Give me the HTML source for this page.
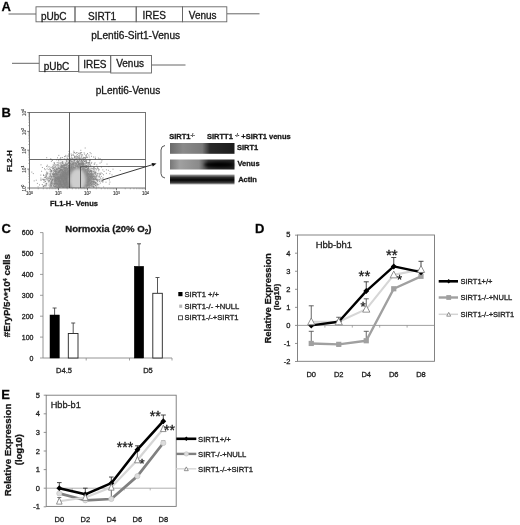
<!DOCTYPE html>
<html><head><meta charset="utf-8"><title>Figure</title>
<style>html,body{margin:0;padding:0;background:#fff;}svg{display:block;font-family:"Liberation Sans",sans-serif;filter:blur(0.4px);}text{stroke:#222;stroke-width:0.3px;}text.tk{stroke-width:0.12px;}</style>
</head><body>
<svg width="520" height="525" viewBox="0 0 520 525" font-family="Liberation Sans, sans-serif">
<rect x="0" y="0" width="520" height="525" fill="#fff"/>
<defs><filter id="bl2" x="-50%" y="-50%" width="200%" height="200%"><feGaussianBlur stdDeviation="3.5"/></filter><filter id="bl3" x="-50%" y="-50%" width="200%" height="200%"><feGaussianBlur stdDeviation="1.8"/></filter></defs>
<text x="1.5" y="11.2" font-size="13" font-weight="bold" text-anchor="start" fill="#000" >A</text>
<line x1="8.5" y1="14" x2="36" y2="14" stroke="#666" stroke-width="1" />
<line x1="227" y1="13.8" x2="259.5" y2="13.8" stroke="#666" stroke-width="1" />
<rect x="36" y="6.8" width="39" height="15" fill="none" stroke="#666" stroke-width="0.9" />
<rect x="75" y="6.8" width="61.19999999999999" height="15" fill="none" stroke="#666" stroke-width="0.9" />
<rect x="136.2" y="6.8" width="46.30000000000001" height="15" fill="none" stroke="#666" stroke-width="0.9" />
<rect x="182.5" y="6.8" width="44.30000000000001" height="15" fill="none" stroke="#666" stroke-width="0.9" />
<text x="41" y="20" font-size="10"  text-anchor="start" fill="#111" >pUbC</text>
<text x="88" y="20" font-size="10"  text-anchor="start" fill="#111" >SIRT1</text>
<text x="142.5" y="19.3" font-size="10"  text-anchor="start" fill="#111" >IRES</text>
<text x="188.8" y="19" font-size="10"  text-anchor="start" fill="#111" >Venus</text>
<text x="91.2" y="39.3" font-size="10.15"  text-anchor="start" fill="#111" >pLenti6-Sirt1-Venus</text>
<line x1="12" y1="63.3" x2="39.2" y2="63.3" stroke="#666" stroke-width="1" />
<line x1="151.5" y1="65" x2="185.5" y2="65" stroke="#666" stroke-width="1" />
<rect x="39.2" y="55.5" width="39.5" height="16" fill="none" stroke="#666" stroke-width="0.9" />
<rect x="78.7" y="55.5" width="32" height="16.5" fill="none" stroke="#666" stroke-width="0.9" />
<rect x="110.7" y="55.5" width="40.8" height="17.5" fill="none" stroke="#666" stroke-width="0.9" />
<text x="43.7" y="69.5" font-size="10"  text-anchor="start" fill="#111" >pUbC</text>
<text x="83.2" y="68.3" font-size="10"  text-anchor="start" fill="#111" >IRES</text>
<text x="116.2" y="67" font-size="10"  text-anchor="start" fill="#111" >Venus</text>
<text x="95.7" y="94.3" font-size="10.1"  text-anchor="start" fill="#111" >pLenti6-Venus</text>
<text x="1.5" y="117" font-size="13" font-weight="bold" text-anchor="start" fill="#000" >B</text>
<clipPath id="cp"><rect x="29.8" y="112.5" width="115.5" height="75.2"/></clipPath>
<g clip-path="url(#cp)">
<ellipse cx="73" cy="180" rx="22" ry="16" fill="#8c8c8c" opacity="0.85" filter="url(#bl2)"/>
<path d="M69.9 183.1h1M70.3 176.5h1M61.8 177.3h1M86.3 182.4h1M85.4 181.0h1M77.7 180.5h1M53.0 185.8h1M79.1 183.0h1M52.7 165.0h1M62.3 175.3h1M76.7 178.6h1M79.3 173.9h1M76.7 182.2h1M65.6 173.1h1M68.9 178.1h1M80.6 181.0h1M67.6 171.3h1M63.3 181.0h1M78.1 167.1h1M48.8 176.4h1M71.7 172.5h1M79.0 178.5h1M55.4 185.6h1M81.0 186.6h1M90.3 181.9h1M74.4 168.6h1M80.4 174.1h1M67.6 168.9h1M61.4 174.8h1M88.5 162.7h1M55.5 180.9h1M90.3 183.6h1M50.2 158.9h1M77.3 173.1h1M59.6 186.8h1M86.2 180.3h1M75.9 182.5h1M92.1 184.0h1M79.2 183.4h1M84.5 183.2h1M49.3 173.9h1M83.1 164.5h1M70.8 187.2h1M79.6 177.8h1M76.9 184.2h1M65.1 175.7h1M85.5 179.2h1M62.4 186.6h1M90.6 175.4h1M56.4 177.9h1M71.2 176.6h1M89.9 170.8h1M88.1 168.9h1M63.6 184.1h1M86.5 185.9h1M77.1 180.1h1M74.8 183.6h1M70.9 181.2h1M79.9 179.0h1M82.2 183.5h1M97.1 181.6h1M67.9 176.0h1M72.8 186.4h1M69.0 182.1h1M95.0 158.5h1M59.5 181.0h1M77.8 180.9h1M67.8 184.2h1M76.4 174.8h1M102.2 181.8h1M66.3 178.2h1M70.3 178.5h1M40.3 175.1h1M85.1 169.7h1M72.2 186.6h1M52.6 176.2h1M68.9 184.0h1M86.1 157.5h1M86.1 167.4h1M81.2 167.1h1M71.2 180.5h1M82.6 180.1h1M85.6 176.6h1M105.9 169.8h1M84.0 176.9h1M74.6 184.6h1M75.7 184.1h1M54.7 166.9h1M80.4 171.3h1M60.7 167.2h1M88.2 185.0h1M90.7 171.5h1M73.0 169.9h1M84.9 177.6h1M71.8 174.2h1M77.8 182.3h1M91.0 170.8h1M90.4 177.6h1M64.1 187.1h1M74.4 180.0h1M90.1 176.9h1M45.4 175.9h1M50.8 185.6h1M76.8 174.1h1M72.9 185.7h1M72.3 187.3h1M64.9 186.0h1M50.5 170.3h1M58.2 178.9h1M70.7 178.8h1M65.9 180.9h1M94.5 179.4h1M79.4 187.0h1M70.6 168.9h1M53.2 174.2h1M85.1 185.3h1M73.1 185.4h1M75.0 169.6h1M54.2 173.9h1M84.1 174.5h1M62.2 172.8h1M54.6 178.1h1M58.8 181.9h1M44.7 181.6h1M65.3 163.5h1M81.7 176.8h1M46.2 172.0h1M76.5 175.3h1M82.4 185.0h1M81.0 181.6h1M89.0 184.3h1M78.4 162.3h1M69.4 175.2h1M96.3 164.9h1M61.9 184.5h1M95.6 178.0h1M79.7 186.2h1M62.1 178.3h1M76.5 185.6h1M72.6 177.4h1M60.8 176.1h1M83.7 179.8h1M62.8 172.3h1M80.6 158.3h1M80.5 182.8h1M93.2 182.4h1M72.2 183.2h1M49.7 187.3h1M76.9 173.4h1M56.2 173.7h1M76.5 180.5h1M68.2 171.2h1M98.4 187.3h1M58.7 168.2h1M93.4 186.9h1M94.9 185.5h1M62.5 181.1h1M47.1 173.0h1M72.3 183.2h1M64.3 178.0h1M78.5 182.0h1M80.7 180.7h1M69.1 185.3h1M73.6 172.4h1M65.5 179.0h1M71.7 180.3h1M73.0 180.4h1M71.4 168.9h1M78.1 187.4h1M78.2 177.5h1M78.4 171.3h1M50.2 179.5h1M61.8 184.9h1M60.0 158.0h1M68.4 168.0h1M63.8 183.2h1M79.0 180.4h1M90.8 184.7h1M72.7 183.8h1M92.9 186.8h1M85.3 170.3h1M71.2 184.8h1M80.2 186.3h1M87.9 177.3h1M68.9 186.0h1M84.8 179.1h1M59.0 180.5h1M82.4 179.2h1M83.2 183.3h1M75.5 179.4h1M70.1 184.5h1M60.3 174.0h1M73.1 167.3h1M67.8 162.9h1M64.8 183.5h1M79.8 178.6h1M70.2 167.7h1M94.9 183.1h1M86.1 171.9h1M70.8 164.4h1M82.4 186.5h1M50.2 178.6h1M80.6 164.9h1M51.1 170.5h1M65.4 167.8h1M73.4 181.0h1M80.6 184.6h1M57.3 175.0h1M60.3 170.4h1M72.0 179.0h1M78.9 166.3h1M58.1 178.8h1M70.6 176.5h1M72.2 172.9h1M81.4 181.8h1M71.9 173.6h1M70.9 157.2h1M61.2 179.3h1M55.0 180.6h1M74.8 168.0h1M70.0 176.5h1M78.5 183.9h1M72.6 172.2h1M71.3 178.5h1M81.8 181.4h1M64.3 168.2h1M68.5 173.1h1M59.7 178.1h1M67.1 179.8h1M79.3 175.7h1M100.9 176.4h1M86.2 180.0h1M86.4 160.0h1M64.0 181.0h1M82.2 186.6h1M79.1 177.8h1M79.1 170.4h1M87.2 170.9h1M70.3 179.2h1M87.0 179.2h1M63.3 181.1h1M80.0 184.7h1M93.0 179.1h1M76.2 175.6h1M90.0 173.4h1M81.1 175.2h1M64.7 184.7h1M89.0 178.9h1M64.9 185.5h1M72.4 181.5h1M73.0 185.3h1M65.2 178.6h1M89.4 169.3h1M54.9 166.0h1M87.1 175.3h1M72.3 176.5h1M71.5 170.3h1M73.3 167.5h1M72.1 181.5h1M78.6 177.1h1M62.2 180.3h1M82.2 178.1h1M67.3 173.4h1M61.8 176.2h1M76.5 183.1h1M64.5 179.1h1M106.5 164.1h1M66.7 180.4h1M74.9 182.3h1M70.1 181.9h1M73.6 185.2h1M50.3 171.9h1M73.0 170.7h1M60.5 184.0h1M65.2 184.1h1M81.9 181.5h1M79.1 178.2h1M56.1 178.8h1M78.5 174.8h1M71.8 185.0h1M62.5 184.1h1M95.4 174.6h1M74.8 177.8h1M91.5 181.5h1M83.8 173.5h1M72.8 178.9h1M83.8 165.0h1M81.9 178.0h1M78.4 181.9h1M55.0 177.3h1M90.9 174.4h1M60.7 168.1h1M58.3 181.7h1M93.3 182.4h1M66.8 173.6h1M79.3 183.4h1M60.8 169.6h1M76.5 181.0h1M57.3 177.4h1M66.5 182.7h1M71.6 178.3h1M68.8 187.4h1M89.7 176.1h1M83.2 172.9h1M73.9 185.0h1M91.2 175.9h1M72.1 180.6h1M55.0 179.1h1M64.9 182.0h1M59.4 163.2h1M73.5 181.1h1M66.4 186.1h1M69.7 174.2h1M78.7 166.5h1M64.9 178.8h1M83.2 177.7h1M76.7 173.8h1M65.3 179.1h1M75.1 187.2h1M58.2 162.2h1M80.3 185.4h1M75.5 181.0h1M84.2 182.0h1M93.0 169.1h1M68.5 151.4h1M82.7 176.0h1M72.9 177.0h1M67.0 172.3h1M65.4 184.1h1M73.4 179.5h1M70.9 186.3h1M78.9 177.9h1M81.0 177.8h1M78.6 171.3h1M85.9 181.8h1M77.0 186.1h1M75.4 177.8h1M54.4 186.8h1M73.4 176.7h1M77.2 179.6h1M81.1 176.0h1M72.6 161.9h1M67.9 184.4h1M89.0 176.1h1M69.1 184.9h1M93.1 179.3h1M87.7 173.3h1M75.5 178.4h1M101.7 173.7h1M66.1 183.0h1M60.3 183.0h1M79.9 176.8h1M79.4 166.6h1M82.1 166.6h1M64.6 174.6h1M68.2 185.9h1M74.0 175.8h1M73.1 181.9h1M87.9 181.1h1M99.5 163.1h1M72.5 182.3h1M84.6 184.4h1M69.7 170.6h1M74.2 187.3h1M59.9 170.8h1M72.7 163.5h1M69.9 175.5h1M78.4 173.4h1M62.4 175.8h1M72.4 173.7h1M73.1 185.0h1M63.6 175.6h1M64.3 178.7h1M79.3 168.1h1M78.6 178.8h1M51.1 181.3h1M87.3 164.1h1M82.7 180.7h1M78.7 182.5h1M88.6 177.2h1M83.5 175.7h1M81.7 172.5h1M78.3 177.7h1M59.3 172.7h1M75.3 186.5h1M78.1 183.2h1M68.3 174.6h1M83.7 179.5h1M69.7 174.4h1M69.9 184.0h1M77.2 169.3h1M78.1 180.4h1M61.0 185.2h1M69.6 176.3h1M64.7 182.5h1M65.2 185.5h1M99.6 158.7h1M67.8 183.0h1M71.9 173.7h1M98.8 179.6h1M53.3 185.8h1M66.1 180.2h1M88.1 179.9h1M56.3 165.4h1M87.2 184.9h1M63.2 185.9h1M79.0 184.2h1M45.9 176.6h1M83.8 184.9h1M83.6 159.3h1M75.0 182.9h1M103.6 171.4h1M69.0 179.3h1M83.6 175.5h1M86.8 172.7h1M76.2 174.8h1M74.9 173.5h1M76.6 174.5h1M75.4 186.9h1M61.3 178.1h1M79.5 183.2h1M69.0 162.1h1M87.9 181.6h1M73.2 176.8h1M76.2 175.6h1M60.7 173.1h1M65.8 174.1h1M59.1 184.1h1M57.3 184.3h1M60.8 181.8h1M89.5 180.6h1M64.2 179.4h1M74.8 165.1h1M65.7 180.3h1M67.4 179.6h1M81.8 185.1h1M83.9 183.7h1M69.5 178.9h1M69.7 176.5h1M70.8 165.2h1M69.0 178.8h1M61.3 178.8h1M79.2 177.7h1M97.9 158.1h1M70.5 164.4h1M43.0 180.0h1M79.2 176.6h1M79.6 161.1h1M83.2 182.0h1M73.3 174.3h1M80.7 175.1h1M75.7 174.9h1M46.0 178.7h1M75.4 185.0h1M62.5 178.7h1M80.4 180.2h1M62.1 163.6h1M84.1 185.5h1M65.6 173.3h1M83.7 171.7h1M51.2 171.0h1M64.8 173.2h1M75.8 173.0h1M88.7 178.4h1M66.0 180.8h1M72.8 176.5h1M76.9 173.5h1M50.9 161.3h1M57.8 172.9h1M72.7 179.4h1M79.7 180.0h1M63.5 173.3h1M47.6 177.6h1M78.8 183.2h1M71.5 177.6h1M84.2 179.1h1M81.9 183.7h1M66.1 176.1h1M63.3 172.6h1M73.3 183.5h1M87.1 185.5h1M87.5 168.9h1M65.3 182.6h1M90.2 179.8h1M62.7 176.2h1M65.1 172.1h1M91.0 174.0h1M87.2 181.7h1M65.7 182.3h1M92.5 184.0h1M88.1 179.8h1M79.2 177.4h1M55.8 178.5h1M75.9 174.4h1M69.3 185.3h1M97.0 184.0h1M76.9 166.6h1M96.1 179.6h1M72.6 170.1h1M72.3 170.2h1M73.9 182.7h1M73.4 181.2h1M65.2 164.5h1M70.7 172.9h1M60.9 176.2h1M76.5 169.5h1M81.2 177.8h1M74.5 178.0h1M72.4 184.9h1M71.9 159.8h1M72.7 171.9h1M80.8 174.1h1M60.4 170.0h1M56.1 159.8h1M50.5 181.9h1M65.3 164.1h1M55.2 183.9h1M63.7 176.1h1M96.3 187.3h1M74.7 180.5h1M69.3 182.7h1M76.4 179.4h1M67.0 168.4h1M66.6 166.6h1M87.7 183.3h1M83.7 163.7h1M95.1 185.5h1M97.8 169.2h1M79.4 182.4h1M75.4 180.4h1M85.6 167.0h1M58.1 167.8h1M66.3 174.2h1M77.4 181.1h1M73.4 173.6h1M67.7 186.6h1M82.2 179.8h1M65.9 184.2h1M86.8 176.9h1M82.9 170.1h1M85.2 180.6h1M54.0 184.4h1M64.9 177.7h1M76.4 176.3h1M76.1 174.6h1M81.1 179.0h1M75.5 157.0h1M86.9 179.3h1M51.6 179.8h1M71.2 184.4h1M68.6 170.1h1M86.2 186.3h1M91.5 185.9h1M66.1 165.7h1M65.2 173.6h1M63.2 183.7h1M76.9 176.8h1M75.1 177.8h1M75.6 185.0h1M84.5 173.5h1M53.3 176.4h1M73.3 167.5h1M66.8 184.8h1M62.6 167.8h1M79.2 186.5h1M75.3 168.6h1M82.4 185.3h1M79.6 175.1h1M76.6 185.3h1M66.3 164.3h1M76.9 182.8h1M73.2 186.1h1M66.0 178.3h1M69.3 183.6h1M92.1 177.0h1M82.5 183.7h1M94.2 177.6h1M71.7 170.5h1M79.4 182.4h1M70.6 180.4h1M55.9 187.4h1M68.1 170.2h1M64.0 172.4h1M83.3 187.5h1M56.7 186.4h1M83.7 174.4h1M55.2 173.0h1M65.4 181.7h1M68.7 162.8h1M75.8 166.7h1M83.9 169.3h1M64.7 172.2h1M83.2 183.8h1M76.8 166.6h1M66.8 174.6h1M61.3 183.1h1M64.1 173.3h1M60.5 162.5h1M75.1 171.2h1M40.5 180.4h1M87.6 181.4h1M86.5 175.5h1M85.6 185.2h1M54.6 175.8h1M55.9 178.1h1M79.9 170.5h1M57.1 187.5h1M70.5 181.2h1M71.2 187.0h1M85.5 179.7h1M56.7 184.9h1M67.4 184.0h1M86.7 175.4h1M66.6 182.5h1M79.2 168.4h1M57.9 181.0h1M82.2 165.6h1M63.2 180.3h1M67.1 177.8h1M78.6 172.5h1M78.6 173.9h1M66.5 183.3h1M66.1 181.3h1M92.2 179.2h1M71.2 184.9h1M57.6 183.9h1M66.9 172.6h1M94.2 172.2h1M94.1 184.3h1M90.4 171.2h1M71.6 178.0h1M102.5 180.4h1M67.9 174.0h1M78.4 181.6h1M69.1 182.8h1M90.5 171.0h1M56.7 170.2h1M60.5 164.2h1M78.4 164.2h1M53.6 176.5h1M50.0 185.2h1M64.2 176.9h1M73.7 183.4h1M68.8 179.1h1M66.4 179.9h1M58.9 179.5h1M49.8 175.1h1M96.0 179.6h1M57.9 181.1h1M61.3 165.8h1M64.2 184.9h1M77.6 178.2h1M61.9 170.4h1M89.2 181.0h1M61.6 162.1h1M59.2 178.4h1M75.5 177.7h1M69.7 168.0h1M63.9 185.8h1M52.7 176.8h1M76.1 187.3h1M59.5 183.8h1M77.6 173.1h1M78.7 171.8h1M63.4 178.8h1M40.4 178.1h1M61.0 167.3h1M67.9 185.1h1M59.1 168.5h1M91.6 182.2h1M84.3 172.4h1M82.7 181.1h1M80.8 179.2h1M87.5 173.8h1M61.4 167.2h1M86.9 173.1h1M60.5 171.5h1M67.7 168.8h1M69.5 174.0h1M66.4 171.3h1M73.4 175.3h1M74.4 181.0h1M77.1 161.5h1M66.6 172.6h1M82.3 166.4h1M64.4 176.6h1M69.0 186.9h1M67.7 186.7h1M55.4 164.5h1M87.6 182.5h1M78.9 180.0h1M78.8 169.3h1M84.4 174.7h1M84.8 179.7h1M49.3 168.7h1M86.5 177.9h1M68.3 180.9h1M67.9 174.6h1M74.2 180.2h1M91.2 179.4h1M93.6 187.5h1M74.6 180.1h1M71.3 173.2h1M72.2 173.9h1M92.7 183.3h1M67.6 163.7h1M72.4 175.7h1M60.0 169.9h1M46.0 183.6h1M72.6 177.8h1M90.3 180.1h1M75.0 176.0h1M68.8 179.2h1M62.4 186.7h1M56.3 183.5h1M64.4 172.9h1M92.8 174.2h1M63.9 176.3h1M103.1 187.0h1M66.5 164.6h1M95.4 176.9h1M64.7 174.9h1M50.4 186.3h1M52.5 168.8h1M76.5 172.9h1M82.4 179.1h1M58.9 184.0h1M83.1 163.7h1M94.9 183.0h1M82.1 164.1h1M64.4 176.2h1M85.9 167.3h1M62.4 162.8h1M70.1 181.8h1M52.8 174.3h1M81.0 176.6h1M58.9 171.5h1M65.0 180.2h1M76.4 170.4h1M91.5 186.6h1M74.2 173.2h1M50.6 170.8h1M83.9 172.6h1M57.2 180.6h1M75.9 183.9h1M62.9 186.8h1M61.2 184.6h1M75.1 180.9h1M84.6 178.9h1M86.3 186.0h1M74.6 174.5h1M64.0 174.8h1M70.6 178.8h1M108.8 184.1h1M82.2 172.1h1M64.5 176.4h1M75.3 170.7h1M92.3 174.5h1M85.9 160.3h1M72.9 181.2h1M75.3 183.8h1M76.4 180.3h1M50.3 173.3h1M44.9 184.0h1M76.7 177.4h1M63.1 174.3h1M53.9 163.5h1M67.2 172.0h1M66.3 180.5h1M109.3 173.7h1M73.6 181.2h1M72.6 186.4h1M94.3 169.1h1M74.9 176.9h1M77.3 166.7h1M51.9 160.5h1M79.3 180.5h1M73.9 160.1h1M68.5 173.0h1M56.0 171.7h1M81.4 183.4h1M72.7 183.1h1M65.8 179.6h1M73.5 183.4h1M72.2 177.9h1M71.4 173.8h1M99.8 183.1h1M89.8 166.5h1M81.3 185.7h1M82.2 169.6h1M62.6 181.2h1M79.1 170.8h1M68.4 175.8h1M73.7 181.7h1M69.6 169.1h1M71.7 187.2h1M78.3 184.3h1M78.8 172.9h1M79.9 187.1h1M96.9 184.9h1M68.9 174.2h1M63.2 179.9h1M72.6 184.4h1M100.3 178.8h1M81.1 182.8h1M76.3 177.3h1M71.5 172.4h1M75.1 178.8h1M76.8 172.2h1M73.5 179.4h1M80.3 170.5h1M78.0 186.9h1M80.2 176.1h1M67.1 177.1h1M71.1 173.9h1M77.5 180.6h1M62.1 173.1h1M71.8 184.4h1M58.7 170.9h1M79.0 169.2h1M74.3 181.8h1M71.7 170.9h1M72.3 176.3h1M77.0 172.3h1M86.1 165.6h1M70.9 179.1h1M84.5 174.1h1M79.6 174.5h1M68.2 182.5h1M61.9 186.8h1M87.5 179.3h1M59.4 182.2h1M82.8 164.4h1M95.6 185.1h1M86.4 176.3h1M58.3 178.2h1M70.6 178.6h1M81.4 177.8h1M75.3 182.4h1M78.3 179.7h1M70.5 174.0h1M89.1 180.2h1M60.1 174.5h1M71.4 175.4h1M86.0 169.7h1M78.9 180.1h1M58.9 179.4h1M71.9 183.0h1M67.6 181.4h1M53.0 170.3h1M82.4 187.3h1M72.8 174.2h1M86.0 162.3h1M63.4 184.4h1M80.8 170.7h1M74.8 171.8h1M73.7 186.2h1M81.9 162.4h1M82.3 164.8h1M86.7 182.2h1M100.0 174.1h1M73.1 187.4h1M65.3 173.4h1M68.5 178.4h1M60.0 182.9h1M79.5 179.6h1M93.4 176.4h1M88.7 174.6h1M82.1 163.5h1M75.4 177.6h1M67.1 174.1h1M68.8 173.2h1M46.7 174.2h1M66.4 174.8h1M60.3 177.9h1M82.4 177.0h1M84.7 186.4h1M86.9 176.4h1M66.4 178.0h1M77.5 182.0h1M69.7 186.9h1M70.9 184.8h1M85.8 184.3h1M81.8 169.7h1M57.3 174.1h1M58.3 181.5h1M62.8 173.1h1M69.7 184.5h1M61.2 186.1h1M84.2 179.6h1M78.7 174.5h1M59.9 175.8h1M75.4 181.5h1M81.9 172.8h1M84.0 182.0h1M54.8 183.8h1M79.6 182.6h1M92.0 175.7h1M79.1 185.0h1M55.6 168.6h1M79.3 170.3h1M71.6 165.8h1M73.8 169.9h1M77.1 166.7h1M78.4 176.9h1M73.8 178.5h1M74.6 168.4h1M42.2 179.3h1M61.8 175.4h1M78.1 163.1h1M63.8 174.1h1M60.3 181.6h1M71.3 172.4h1M61.2 185.5h1M65.1 183.7h1M78.4 163.8h1M60.0 179.0h1M77.1 185.2h1M82.6 187.3h1M68.5 177.3h1M82.3 175.6h1M85.7 166.3h1M80.8 177.6h1M49.4 186.8h1M76.7 179.2h1M60.1 175.3h1M91.1 172.4h1M31.3 172.1h1M58.6 177.9h1M68.3 171.7h1M62.9 187.4h1M66.5 170.3h1M82.4 183.5h1M60.5 185.0h1M50.9 171.6h1M86.5 177.0h1M57.4 183.1h1M84.0 178.8h1M51.3 176.2h1M78.0 185.1h1M95.2 177.0h1M67.2 178.7h1M87.5 171.5h1M88.7 157.0h1M82.6 173.6h1M78.5 184.5h1M58.8 178.3h1M75.9 183.7h1M61.8 171.1h1M70.7 177.2h1M55.1 186.4h1M83.2 179.2h1M81.7 170.1h1M69.1 174.4h1M57.8 179.1h1M32.8 173.6h1M62.0 175.3h1M78.1 182.2h1M73.3 175.2h1M78.9 181.9h1M50.9 176.9h1M56.5 169.5h1M74.8 179.5h1M74.4 172.0h1M70.6 171.7h1M77.6 184.5h1M63.3 175.3h1M61.7 181.4h1M96.8 184.7h1M46.6 168.9h1M57.5 183.1h1M73.0 181.4h1M94.4 172.4h1M77.1 172.8h1M48.7 166.8h1M43.7 179.5h1M73.5 186.9h1M71.3 173.5h1M51.8 180.4h1M73.3 183.9h1M68.1 183.0h1M82.8 177.8h1M67.5 177.5h1M61.4 177.3h1M69.4 180.7h1M67.7 183.8h1M76.5 185.1h1M73.3 181.1h1M67.4 172.7h1M80.9 182.5h1M76.2 175.4h1M51.6 184.3h1M75.4 174.6h1M64.4 178.8h1M66.9 180.2h1M70.5 173.0h1M85.9 172.7h1M66.9 183.4h1M66.5 175.5h1M77.3 176.1h1M58.0 178.2h1M59.8 186.8h1M63.6 176.2h1M69.1 181.2h1M84.9 185.5h1M63.9 186.2h1M71.7 181.8h1M69.8 184.3h1M70.5 187.0h1M90.4 171.5h1M90.7 168.3h1M79.5 183.8h1M90.8 181.2h1M67.2 172.6h1M58.0 185.1h1M70.2 173.3h1M79.4 172.9h1M67.8 175.3h1M71.1 166.4h1M76.3 179.6h1M77.2 183.5h1M69.2 186.4h1M83.0 180.7h1M68.1 175.2h1M81.3 170.2h1M71.1 173.0h1M56.3 183.8h1M72.7 179.3h1M83.5 167.0h1M72.2 181.3h1M83.0 170.3h1M81.6 180.8h1M73.0 175.6h1M68.9 171.5h1M72.7 164.0h1M72.0 182.4h1M84.9 176.2h1M89.7 173.8h1M71.4 164.0h1M63.9 172.7h1M90.5 183.1h1M60.1 183.2h1M78.6 177.2h1M73.3 176.6h1M66.6 165.2h1M89.8 176.8h1M64.2 177.3h1M83.5 181.7h1M66.2 181.8h1M70.6 183.0h1M68.2 167.5h1M73.7 184.9h1M60.0 178.2h1M83.3 176.1h1M82.7 187.0h1M53.6 175.0h1M62.1 173.8h1M75.3 164.0h1M80.5 183.4h1M67.8 183.2h1M82.1 181.4h1M67.4 180.3h1M66.9 187.0h1M68.3 182.7h1M74.6 179.5h1M93.0 178.3h1M89.5 185.4h1M88.3 177.7h1M83.8 184.9h1M65.9 181.1h1M71.5 178.7h1M88.1 173.4h1M53.5 165.5h1M67.8 174.0h1M73.2 183.4h1M93.4 181.4h1M78.4 173.3h1M88.5 163.9h1M82.6 167.5h1M69.4 183.5h1M77.8 172.7h1M62.7 186.4h1M73.2 181.3h1M57.6 174.4h1M81.0 167.7h1M96.9 168.2h1M58.9 179.3h1M78.6 184.6h1M68.7 177.4h1M70.3 174.6h1M43.3 186.4h1M75.9 180.2h1M65.7 180.9h1M72.8 178.4h1M85.7 165.8h1M75.9 170.8h1M60.5 178.2h1M66.2 186.3h1M61.7 166.1h1M78.9 176.3h1M69.3 187.3h1M62.8 176.1h1M74.7 182.2h1M67.0 187.0h1M98.8 175.9h1M94.5 162.8h1M89.2 176.4h1M74.6 176.4h1M65.7 169.2h1M86.1 176.3h1M66.9 173.6h1M80.6 179.9h1M67.3 171.1h1M88.2 185.0h1M62.0 186.6h1M60.2 183.9h1M61.9 175.8h1M78.7 182.3h1M84.7 172.6h1M72.9 182.6h1M64.0 177.8h1M57.8 179.7h1M83.9 185.3h1M68.8 177.3h1M69.1 180.7h1M50.8 184.9h1M54.9 175.0h1M73.3 175.1h1M92.2 178.2h1M67.3 182.1h1M88.0 176.4h1M74.0 174.7h1M73.7 176.3h1M74.0 186.7h1M89.0 180.0h1M75.3 185.6h1M69.7 170.9h1M85.8 171.8h1M83.7 171.6h1M94.1 171.0h1M63.5 165.5h1M81.3 184.4h1M70.7 159.6h1M72.4 176.7h1M68.6 176.8h1M52.4 174.6h1M68.8 173.5h1M77.6 187.2h1M81.3 170.0h1M74.9 180.1h1M68.1 182.0h1M83.6 172.0h1M64.9 165.5h1M74.9 178.6h1M69.2 182.8h1M48.6 178.8h1M74.0 177.0h1M67.9 171.8h1M66.0 179.7h1M79.8 172.4h1M84.5 171.1h1M82.5 182.3h1M70.0 177.7h1M78.5 185.6h1M57.6 181.1h1M64.5 183.8h1M88.8 179.4h1M71.8 180.4h1M39.0 184.9h1M79.5 180.3h1M68.4 173.4h1M43.4 175.5h1M76.2 178.9h1M53.9 173.9h1M87.4 169.1h1M61.6 170.6h1M66.6 183.9h1M79.8 163.4h1M89.8 174.5h1M72.1 169.5h1M65.6 173.4h1M61.4 176.4h1M83.1 181.7h1M61.6 179.9h1M73.4 184.8h1M69.2 182.5h1M97.3 179.7h1M60.5 181.5h1M63.8 176.2h1M75.2 181.6h1M69.7 185.5h1M70.8 169.0h1M83.1 176.2h1M87.0 174.0h1M79.6 181.4h1M41.9 167.5h1M51.2 186.0h1M85.6 182.8h1M80.8 175.2h1M72.9 180.7h1M77.8 184.4h1M70.6 173.6h1M66.5 182.2h1M53.9 169.4h1M68.3 174.8h1M69.9 158.6h1M69.1 177.1h1M81.9 163.8h1M69.5 182.6h1M85.2 170.9h1M80.3 176.4h1M65.7 172.4h1M68.3 172.4h1M84.6 181.9h1M89.2 182.2h1M65.9 187.1h1M65.4 175.4h1M71.1 179.3h1M86.8 174.3h1M77.1 178.8h1M58.5 170.6h1M70.5 182.1h1M76.7 182.7h1M73.6 175.5h1M77.9 171.3h1M57.5 176.4h1M56.5 175.0h1M64.4 174.7h1M72.5 172.8h1M68.1 165.8h1M74.7 172.2h1M77.7 157.2h1M63.7 180.9h1M44.8 176.2h1M74.1 179.8h1M55.7 180.8h1M74.7 171.5h1M81.6 178.6h1M73.2 175.5h1M79.3 179.8h1M86.2 182.5h1M65.9 177.3h1M83.6 176.2h1M77.4 183.0h1M70.9 161.0h1M74.5 180.7h1M74.6 173.1h1M87.0 178.0h1M65.8 173.5h1M77.2 170.6h1M88.2 187.2h1M88.8 183.6h1M87.4 182.8h1M88.9 175.2h1M74.5 185.0h1M73.9 184.4h1M74.0 167.5h1M79.4 174.4h1M73.2 164.1h1M70.8 186.0h1M47.8 180.5h1M62.2 173.9h1M51.2 171.1h1M78.0 175.2h1M98.6 159.4h1M72.2 180.7h1M99.4 180.0h1M79.0 181.8h1M70.9 175.8h1M67.8 162.8h1M76.1 178.7h1M71.8 176.9h1M64.3 178.8h1M67.9 180.6h1M109.4 182.1h1M83.1 185.4h1M81.3 185.4h1M67.1 179.0h1M64.5 186.5h1M82.7 175.4h1M87.4 170.3h1M71.9 183.9h1M72.6 182.0h1M86.8 181.6h1M60.2 184.6h1M71.9 179.9h1M66.4 168.2h1M58.4 176.2h1M60.5 157.8h1M86.4 170.0h1M64.5 183.1h1M64.0 184.1h1M67.4 181.4h1M74.2 179.0h1M51.6 167.5h1M66.6 183.1h1M74.9 182.8h1M84.6 167.3h1M76.2 177.6h1M69.3 172.3h1M63.8 171.0h1M92.9 179.1h1M81.7 171.4h1M40.5 164.8h1M72.5 171.2h1M70.2 171.2h1M56.7 177.2h1M68.3 172.7h1M62.6 171.7h1M54.1 181.1h1M59.5 177.7h1M74.2 183.4h1M86.2 174.7h1M58.5 177.5h1M76.4 173.6h1M56.4 181.8h1M84.9 164.0h1M75.4 177.2h1M75.5 175.3h1M78.2 184.0h1M82.0 183.5h1M77.8 169.8h1M68.1 180.0h1M68.6 170.8h1M51.7 180.9h1M73.4 174.4h1M68.1 172.1h1M64.2 178.2h1M65.5 184.3h1M71.3 180.0h1M80.0 180.8h1M71.1 172.7h1M69.0 184.3h1M75.6 176.0h1M57.4 167.0h1M76.8 187.0h1M77.4 168.3h1M70.5 180.7h1M62.3 181.7h1M70.7 172.5h1M58.5 185.3h1M77.2 172.1h1M61.1 185.9h1M80.0 176.6h1M91.6 176.7h1M70.8 181.7h1M73.4 171.2h1M59.1 177.5h1M89.4 171.2h1M88.9 180.7h1M60.0 181.1h1M79.6 172.0h1M48.1 181.8h1M60.0 182.4h1M50.7 177.9h1M63.5 167.5h1M70.2 180.3h1M66.5 169.8h1M75.5 165.4h1M79.2 182.8h1M92.6 185.9h1M77.1 181.1h1M73.3 168.7h1M90.1 183.1h1M69.7 170.1h1M90.3 183.1h1M59.2 184.2h1M95.1 178.8h1M77.7 175.8h1M65.7 187.3h1M108.9 179.9h1M71.6 185.2h1M69.4 184.7h1M82.7 171.1h1M60.5 178.4h1M82.7 181.2h1M87.5 168.3h1M78.7 174.2h1M74.2 181.5h1M61.7 177.2h1M59.4 181.1h1M63.1 175.2h1M75.5 173.9h1M86.4 174.1h1M82.9 181.2h1M61.0 177.3h1M63.3 176.2h1M78.2 168.9h1M46.1 184.3h1M49.8 184.6h1M85.0 182.0h1M70.6 177.1h1M76.0 176.7h1M66.8 176.1h1M86.6 174.2h1M77.4 170.1h1M64.7 168.4h1M70.7 184.3h1M76.5 175.2h1M80.1 176.3h1M77.3 181.1h1M79.3 159.8h1M57.9 185.0h1M70.3 174.7h1M90.3 183.3h1M95.0 182.9h1M70.6 184.6h1M63.9 175.5h1M66.6 177.3h1M82.0 175.3h1M76.7 175.1h1M83.3 157.7h1M70.6 180.3h1M60.5 186.8h1M84.2 184.0h1M71.3 170.6h1M70.4 175.4h1M75.9 175.4h1M108.4 166.6h1M86.6 175.4h1M70.2 186.2h1M73.0 169.6h1M77.8 177.5h1M49.1 180.5h1M60.8 173.2h1M78.6 181.3h1M77.9 174.3h1M75.7 178.1h1M47.5 166.8h1M70.9 176.9h1M66.5 186.6h1M71.6 181.9h1M68.0 177.7h1M53.0 174.5h1M62.0 174.0h1M87.1 181.0h1M87.2 185.6h1M83.6 186.7h1M66.0 185.2h1M69.3 174.9h1M82.6 172.5h1M76.2 181.9h1M77.3 176.3h1M58.1 179.2h1M83.0 185.1h1M80.6 187.5h1M61.5 178.7h1M76.9 186.7h1M74.8 183.0h1M47.8 178.8h1M101.6 180.8h1M51.8 180.0h1M56.4 173.8h1M78.3 184.2h1M84.8 180.5h1M63.1 178.2h1M76.9 176.9h1M65.3 176.2h1M55.6 171.1h1M72.0 176.2h1M76.5 178.8h1M59.4 170.7h1M77.3 172.3h1M78.0 170.7h1M74.6 178.4h1M84.5 176.0h1M68.7 180.9h1M70.0 174.9h1M69.3 182.6h1M75.7 184.3h1M94.2 178.8h1M59.0 180.2h1M77.8 161.8h1M73.2 167.6h1M84.9 167.4h1M89.0 186.0h1M68.8 182.9h1M90.5 176.4h1M72.8 174.7h1M86.4 162.4h1M89.4 171.6h1M83.7 166.5h1M62.2 174.4h1M82.6 166.5h1M80.0 174.1h1M87.3 176.6h1M78.6 177.7h1M93.7 176.2h1M73.9 184.3h1M64.5 180.5h1M46.8 179.8h1M65.5 167.4h1M77.9 167.3h1M93.9 173.6h1M68.7 180.9h1M59.9 166.6h1M84.0 166.8h1M86.9 179.3h1M78.8 179.4h1M77.8 171.3h1M62.5 173.6h1M68.7 183.8h1M65.7 174.5h1M81.1 182.3h1M69.1 170.8h1M61.5 166.7h1M86.2 187.3h1M94.6 182.8h1M76.8 184.8h1M84.0 177.0h1M53.4 168.2h1M61.9 184.8h1M86.7 176.4h1M80.8 178.6h1M76.5 174.8h1M72.7 179.0h1M52.0 183.1h1M72.9 186.5h1M85.3 185.0h1M82.3 171.7h1M87.0 171.7h1M87.9 184.1h1M44.6 185.9h1M65.1 173.3h1M55.1 177.3h1M84.8 173.8h1M94.3 184.3h1M66.8 169.7h1M54.1 183.3h1M88.0 170.8h1M73.0 176.9h1M70.0 182.9h1M97.2 174.1h1M82.8 187.4h1M69.7 177.9h1M57.5 187.3h1M66.9 174.0h1M73.8 172.4h1M60.9 176.7h1M90.2 177.4h1M79.1 167.7h1M68.4 167.1h1M71.8 183.7h1M53.0 172.2h1M76.0 171.9h1M82.2 186.4h1M78.1 175.7h1M72.5 174.1h1M71.5 181.5h1M69.5 186.5h1M103.0 174.8h1M77.0 185.4h1M80.5 177.2h1M67.4 186.8h1M80.2 182.9h1M63.7 183.9h1M82.2 177.6h1M51.2 183.7h1M59.4 168.5h1M70.3 183.2h1M73.6 170.0h1M56.3 174.7h1M73.2 172.6h1M63.3 177.8h1M66.6 174.5h1M73.5 176.7h1M80.2 169.8h1M72.1 184.9h1M86.7 183.3h1M73.4 167.0h1M54.4 186.6h1M80.9 183.4h1M53.7 162.5h1M60.7 169.8h1M74.9 171.1h1M91.4 174.2h1M66.5 185.7h1M76.8 172.0h1M58.7 177.1h1M60.5 163.9h1M80.3 184.4h1M84.3 182.3h1M49.5 178.8h1M65.2 169.9h1M60.1 184.9h1M78.5 164.2h1M73.4 169.6h1M93.6 168.8h1M72.0 164.2h1M58.4 165.8h1M68.3 168.4h1M72.3 181.9h1M55.2 170.0h1M71.8 184.5h1M73.9 182.5h1M58.4 159.6h1M76.6 171.8h1M71.5 176.1h1M78.6 173.0h1M89.9 179.2h1M79.2 183.9h1M85.1 182.2h1M52.5 174.1h1M94.8 182.7h1M79.6 182.7h1M65.5 173.7h1M78.4 169.7h1M93.4 181.6h1M87.0 180.7h1M69.2 180.3h1M59.8 169.6h1M62.6 174.9h1M57.0 178.2h1M94.7 178.6h1M83.4 177.3h1M77.6 178.7h1M66.6 179.6h1M55.6 182.5h1M69.6 170.5h1M68.8 183.4h1M65.0 182.7h1M60.2 178.1h1M76.1 184.9h1M55.7 174.4h1M92.6 176.8h1M98.6 173.3h1M69.7 166.4h1M80.5 181.1h1M96.9 180.3h1M70.0 167.9h1M72.0 186.5h1M83.2 178.6h1M80.2 180.4h1M77.4 170.7h1M77.6 181.3h1M36.9 183.4h1M91.2 171.5h1M51.0 181.2h1M77.0 181.8h1M59.8 175.3h1M75.3 184.9h1M99.0 181.3h1M65.8 160.3h1M85.8 178.0h1M71.7 171.2h1M81.7 164.8h1M74.3 180.0h1M71.8 179.7h1M83.2 166.7h1M69.5 179.5h1M84.4 172.6h1M82.6 182.1h1M55.3 167.3h1M55.9 180.1h1M75.5 184.7h1M82.8 174.6h1M85.7 185.5h1M78.6 182.8h1M57.7 181.9h1M60.7 169.5h1M68.8 180.1h1M72.4 176.4h1M61.1 180.5h1M64.2 167.8h1M68.2 170.6h1M69.5 177.3h1M74.6 186.9h1M78.3 164.5h1M59.8 169.2h1M78.2 179.8h1M94.4 176.8h1M76.7 179.6h1M88.5 174.2h1M81.2 176.0h1M74.3 180.3h1M73.3 175.3h1M91.6 176.9h1M80.5 187.2h1M93.6 167.6h1M96.4 179.2h1M52.1 173.9h1M56.3 178.8h1M55.2 171.0h1M76.5 180.3h1M63.5 177.1h1M71.8 179.6h1M72.9 177.2h1M83.5 166.2h1M67.1 180.1h1M68.2 174.6h1M67.8 180.7h1M87.9 177.5h1M69.8 181.8h1M70.1 163.5h1M76.2 176.0h1M66.1 184.0h1M73.5 174.5h1M46.9 165.2h1M73.2 178.1h1M78.3 180.8h1M67.3 168.9h1M59.9 177.9h1M59.2 185.0h1M57.1 164.7h1M70.7 164.8h1M92.5 171.1h1M72.4 177.0h1M63.2 164.9h1M50.7 185.9h1M55.5 183.5h1M72.8 185.8h1M66.8 184.8h1M83.7 183.9h1M90.4 177.6h1M91.5 173.4h1M93.0 157.0h1M73.2 172.6h1M73.0 187.2h1M81.6 179.8h1M93.4 167.2h1M76.9 162.4h1M77.1 169.5h1M63.0 186.4h1M79.9 178.0h1M55.9 176.8h1M45.5 174.5h1M61.4 159.5h1M80.0 182.0h1M82.3 179.5h1M65.3 155.4h1M78.8 186.7h1M65.9 167.7h1M72.5 165.6h1M73.1 185.2h1M91.1 181.1h1M75.4 185.0h1M89.8 176.4h1M58.3 172.7h1M57.9 171.9h1M71.6 181.7h1M74.9 179.6h1M68.7 182.4h1M83.6 185.1h1M91.0 176.7h1M75.4 182.3h1M69.0 186.8h1M68.2 170.9h1M72.3 175.5h1M83.0 176.0h1M74.5 177.3h1M77.1 174.0h1M86.3 167.6h1M68.4 173.3h1M80.8 179.3h1M78.8 176.4h1M64.4 170.0h1M69.0 174.7h1M76.4 181.8h1M84.7 178.1h1M64.0 170.5h1M73.7 181.9h1M96.4 180.5h1M72.9 186.6h1M67.2 178.4h1M70.4 186.6h1M73.8 173.3h1M75.9 184.3h1M64.5 184.1h1M64.5 172.0h1M75.6 177.1h1M61.2 166.0h1M73.3 180.9h1M67.5 180.5h1M54.7 182.1h1M78.0 181.2h1M65.6 179.6h1M76.3 181.0h1M64.3 185.9h1M87.1 175.1h1M80.7 181.5h1M72.4 168.7h1M94.1 164.1h1M76.6 176.0h1M86.7 175.6h1M73.5 183.9h1M78.5 174.8h1M81.2 182.1h1M84.9 174.9h1M72.4 175.9h1M63.0 181.0h1M69.1 182.1h1M86.7 178.1h1M73.8 180.1h1M64.7 171.1h1M86.4 180.4h1M72.1 169.1h1M59.2 171.9h1M91.6 174.6h1M80.2 173.0h1M79.2 176.1h1M77.0 177.1h1M73.7 181.1h1M66.9 180.6h1M48.4 169.5h1M58.2 186.0h1M102.1 180.5h1M43.9 177.6h1M35.8 180.2h1M66.9 175.1h1M77.1 174.4h1M86.3 179.0h1M67.7 186.4h1M84.5 180.1h1M89.4 179.0h1M55.5 174.2h1M78.8 183.5h1M76.9 182.5h1M57.3 177.5h1M76.1 177.2h1M73.7 183.8h1M61.7 174.5h1M60.5 165.5h1M82.2 177.3h1M84.5 176.1h1M98.2 184.7h1M74.8 179.9h1M70.6 185.4h1M96.7 175.7h1M60.1 183.7h1M85.7 167.2h1M64.8 171.1h1M79.7 183.0h1M64.3 170.1h1M81.1 162.8h1M80.6 177.8h1M95.7 186.9h1M66.1 176.8h1M69.7 173.3h1M74.0 186.6h1M55.2 177.2h1M90.7 184.9h1M63.4 172.6h1M62.9 166.3h1M86.6 179.5h1M64.8 167.7h1M68.5 175.0h1M93.3 175.4h1M74.4 187.4h1M80.9 177.6h1M80.1 175.6h1M72.0 171.5h1M62.4 167.3h1M78.9 183.1h1M75.1 185.1h1M79.3 180.0h1M62.6 183.6h1M87.0 184.0h1M87.7 175.3h1M66.1 180.9h1M70.8 179.2h1M69.8 174.8h1M75.4 163.9h1M62.3 170.2h1M64.3 159.0h1M70.1 184.8h1M80.1 169.2h1M87.3 165.8h1M66.2 176.2h1M87.8 179.9h1M71.5 172.7h1M74.1 179.3h1M81.7 179.1h1M75.4 178.9h1M79.7 178.1h1M65.5 187.4h1M67.7 186.5h1M63.8 179.8h1M77.7 180.1h1M75.7 182.0h1M59.8 170.3h1M71.5 171.7h1M65.3 179.3h1M86.9 174.6h1M79.6 180.5h1M68.8 171.6h1M71.2 173.3h1M79.3 165.2h1M86.2 184.9h1M80.1 165.6h1M73.6 182.5h1M65.0 170.2h1M78.1 183.0h1M68.0 177.1h1M67.1 174.6h1M72.3 187.4h1M54.1 176.3h1M91.9 181.5h1M74.8 185.5h1M61.3 169.6h1M53.6 167.6h1M75.9 185.6h1M68.1 173.7h1M77.7 183.8h1M76.0 164.1h1M66.6 159.3h1M75.8 172.4h1M88.5 182.8h1M76.2 180.3h1M66.2 178.6h1M95.3 172.2h1M65.3 180.3h1M83.4 185.5h1M61.7 178.0h1M69.9 169.4h1M73.9 175.3h1M83.7 182.4h1M63.9 179.6h1M68.8 174.1h1M67.3 187.3h1M68.2 165.7h1M64.0 185.3h1M98.1 170.8h1M68.9 176.4h1M56.6 182.1h1M72.4 181.2h1M99.1 176.9h1M82.3 185.5h1M65.6 174.4h1M91.2 184.6h1M74.7 170.5h1M83.3 183.1h1M82.4 181.1h1M73.7 174.7h1M76.6 180.9h1M80.6 187.5h1M76.6 174.8h1M63.3 182.3h1M79.4 183.2h1M78.9 178.3h1M93.2 168.1h1M43.4 182.4h1M65.1 175.0h1M54.4 181.8h1M72.4 174.8h1M68.2 184.1h1M79.8 178.7h1M79.4 173.4h1M68.8 183.3h1M53.6 186.3h1M83.2 171.1h1M93.3 179.9h1M52.8 168.4h1M83.2 176.9h1M85.9 167.0h1M71.9 186.6h1M65.1 184.3h1M68.8 181.7h1M58.6 185.1h1M88.3 170.3h1M85.2 155.9h1M70.2 165.7h1M76.5 173.4h1M66.5 172.5h1M76.4 175.4h1M62.5 177.2h1M77.7 172.3h1M86.0 166.1h1M77.8 176.0h1M91.3 174.0h1M65.3 168.6h1M96.2 183.8h1M60.4 176.4h1M77.9 163.2h1M75.4 186.1h1M73.0 182.7h1M71.7 180.6h1M75.5 173.5h1M77.1 180.3h1M72.6 173.7h1M61.2 180.9h1M82.6 160.2h1M83.7 173.5h1M88.8 171.3h1M67.9 177.3h1M53.8 171.1h1M59.3 177.9h1M51.6 187.3h1M68.9 174.3h1M65.6 184.8h1M90.9 175.8h1M88.7 181.3h1M55.6 184.2h1M68.2 180.5h1M51.0 176.8h1M75.7 171.7h1M75.7 173.7h1M100.8 162.2h1M62.3 182.2h1M66.1 161.1h1M76.0 185.5h1M55.2 179.0h1M88.4 179.0h1M75.1 174.1h1M85.8 173.6h1M74.4 162.9h1M73.7 180.7h1M47.3 178.7h1M97.2 167.3h1M45.2 177.7h1M66.8 177.4h1M58.3 168.4h1M58.5 184.0h1M72.4 185.4h1M60.4 183.6h1M67.8 179.7h1M83.9 179.3h1M68.9 166.0h1M73.7 185.1h1M65.6 178.5h1M52.3 168.6h1M69.4 165.9h1M68.5 166.8h1M76.5 177.8h1M85.2 176.0h1M76.9 180.6h1M78.2 167.5h1M81.4 185.9h1M46.2 157.7h1M73.2 184.3h1M79.5 186.0h1M65.5 174.4h1M77.4 183.8h1M79.8 181.7h1M78.6 187.4h1M43.0 186.9h1M44.2 180.7h1M65.2 179.9h1M67.4 176.6h1M75.3 181.7h1M63.6 159.1h1M63.8 183.3h1M63.0 182.4h1M68.6 171.6h1M71.8 178.6h1M84.3 168.5h1M83.7 175.1h1M63.8 181.8h1M56.3 175.1h1M70.3 159.5h1M80.0 185.0h1M85.7 167.6h1M57.8 172.6h1M61.4 176.5h1M75.4 182.6h1M90.2 170.4h1M83.5 180.2h1M59.1 180.2h1M64.3 187.0h1M88.5 174.1h1M62.3 180.0h1M60.5 186.1h1M75.1 172.9h1M64.8 184.8h1M63.6 177.4h1M80.8 179.7h1M93.2 184.3h1M78.2 183.6h1M81.8 181.2h1M71.0 166.3h1M97.6 168.6h1M47.3 173.3h1M65.8 181.1h1M72.7 163.2h1M69.0 181.3h1M87.0 169.4h1M46.0 166.4h1M77.0 179.6h1M74.8 180.2h1M68.6 168.1h1M78.4 182.1h1M58.2 160.3h1M62.0 182.2h1M72.8 184.8h1M111.5 174.9h1M71.0 174.2h1M75.9 183.2h1M86.8 182.6h1M71.7 177.1h1M53.3 184.2h1M61.3 175.0h1M85.0 171.6h1M66.7 185.9h1M95.3 173.5h1M86.2 173.8h1M77.7 182.9h1M59.3 187.2h1M94.6 179.4h1M76.2 169.6h1M94.5 179.5h1M57.7 185.1h1M55.5 173.5h1M99.5 173.9h1M65.2 174.4h1M66.2 183.4h1M90.5 170.9h1M78.3 164.6h1M91.3 178.3h1M63.4 179.5h1M77.4 177.4h1M91.3 173.3h1M49.6 171.2h1M62.2 174.6h1M77.7 177.6h1M73.9 175.3h1M72.0 182.9h1M81.9 172.7h1M71.6 172.9h1M70.9 167.5h1M84.5 184.4h1M71.5 173.5h1M67.5 173.7h1M112.5 169.2h1M59.0 183.6h1M80.3 166.4h1M49.9 183.3h1M67.1 179.7h1M73.0 174.5h1M71.3 176.6h1M87.9 178.3h1M72.6 174.8h1M65.4 173.1h1M86.4 180.9h1M93.0 187.1h1M75.5 177.7h1M59.8 181.0h1M69.2 166.3h1M75.6 183.0h1M75.4 175.3h1M69.3 183.1h1M85.3 175.1h1M75.0 173.1h1M80.2 176.0h1M86.8 172.9h1M93.3 176.5h1M62.9 171.8h1M81.0 172.2h1M79.2 167.6h1M72.7 173.2h1M51.3 182.4h1M99.4 174.7h1M61.5 176.3h1M76.2 182.8h1M59.3 180.7h1M71.7 186.6h1M53.8 174.5h1M67.0 176.5h1M81.7 174.0h1M105.9 173.3h1M83.1 187.2h1M84.6 177.4h1M63.0 177.0h1M81.0 180.0h1M80.0 183.6h1M62.4 171.5h1M90.3 175.1h1M63.0 171.5h1M84.6 169.9h1M62.5 187.4h1M74.6 179.4h1M65.3 177.2h1M67.0 178.8h1M82.3 168.8h1M62.0 162.3h1M91.0 178.4h1M72.8 178.5h1M85.1 181.6h1M83.2 177.7h1M71.5 178.6h1M54.1 171.0h1M81.1 179.4h1M62.4 178.3h1M85.0 177.3h1M71.5 176.2h1M89.4 159.3h1M88.3 187.5h1M72.1 183.5h1M109.7 171.6h1M89.8 178.5h1M68.9 175.1h1M70.7 169.0h1M72.8 183.4h1M76.7 182.8h1M54.7 171.4h1M80.6 187.0h1M59.3 174.4h1M60.2 184.2h1M77.1 179.3h1M65.2 181.7h1M73.4 173.1h1M77.0 173.7h1M84.4 184.0h1M64.7 183.7h1M73.8 173.4h1M62.0 165.7h1M59.4 181.8h1M87.5 174.0h1M74.9 181.8h1M82.4 182.5h1M87.7 185.1h1M63.9 182.2h1M44.9 177.6h1M73.2 183.6h1M69.4 185.7h1M88.9 172.3h1M66.5 181.1h1M78.9 180.2h1M83.0 169.5h1M86.3 182.4h1M70.1 182.2h1M72.1 166.3h1M65.7 178.7h1M66.8 171.5h1M70.2 176.0h1M73.8 178.6h1M75.1 186.9h1M74.6 182.3h1M58.3 155.4h1M68.2 184.4h1M68.9 174.0h1M58.1 186.1h1M66.7 181.0h1M86.6 183.3h1M99.9 177.9h1M84.5 184.5h1M65.1 179.4h1M66.2 170.8h1M76.6 172.8h1M93.2 173.1h1M66.5 179.7h1M66.8 179.4h1M65.7 167.6h1M44.0 168.7h1M91.3 182.6h1M74.8 175.3h1M71.3 181.4h1M56.3 172.6h1M68.8 180.3h1M84.6 170.4h1M68.4 175.6h1M74.6 180.1h1M83.6 179.8h1M92.9 171.4h1M83.7 171.0h1M91.9 177.5h1M89.0 176.3h1M56.0 180.9h1M60.6 176.6h1M53.9 179.8h1M64.9 175.1h1M57.8 178.6h1M73.0 166.1h1M73.6 169.3h1M55.0 179.4h1M62.6 163.9h1M45.0 181.6h1M61.7 186.0h1M68.9 173.9h1M56.9 168.8h1M54.3 169.6h1M69.2 183.2h1M67.5 181.8h1M88.4 177.4h1M50.6 159.4h1M73.8 173.9h1M66.1 183.7h1M77.2 165.9h1M55.2 180.7h1M62.2 161.4h1M88.1 165.3h1M55.0 183.5h1M73.7 184.8h1M78.4 173.5h1M89.4 164.8h1M60.9 182.6h1M72.1 171.4h1M55.5 183.4h1M60.2 176.1h1M85.3 181.1h1M68.3 180.9h1M62.9 175.9h1M93.0 181.7h1M60.1 175.2h1M79.5 176.5h1M52.6 173.9h1M68.2 182.2h1M55.2 173.6h1M77.7 184.3h1M66.9 181.7h1M78.1 164.3h1M84.3 183.0h1M75.2 163.0h1M55.4 177.3h1M72.2 176.0h1M84.5 185.4h1M70.2 180.6h1M75.6 182.2h1M58.8 187.0h1M57.2 179.6h1M64.4 169.6h1M79.4 179.4h1M52.0 179.3h1M61.2 186.3h1M55.0 172.3h1M68.6 183.7h1M84.3 177.6h1M56.5 178.4h1M84.1 177.7h1M62.5 183.1h1M58.0 168.7h1M55.1 183.0h1M41.8 184.5h1M80.7 181.1h1M92.8 176.7h1M61.8 170.6h1M59.9 181.0h1M65.9 173.5h1M64.8 176.2h1M62.8 176.4h1M56.6 179.5h1M62.1 178.5h1M48.7 181.3h1M78.8 185.8h1M61.6 169.8h1M50.0 169.5h1M60.1 177.2h1M42.7 186.0h1M46.3 173.9h1M58.9 187.4h1M98.3 176.8h1M65.8 176.5h1M66.9 178.5h1M107.9 170.3h1M68.3 173.0h1M75.5 175.4h1M78.8 170.4h1M102.4 181.9h1M42.9 186.2h1M62.8 169.7h1M76.8 175.4h1M81.3 175.1h1M83.9 181.3h1M75.5 181.4h1M64.4 176.8h1M76.9 186.3h1M95.9 169.8h1M86.7 179.4h1M73.6 173.0h1M95.3 172.7h1M68.8 173.6h1M49.8 176.0h1M75.6 176.2h1M64.6 170.5h1M73.8 170.3h1M75.7 174.1h1M64.7 171.5h1M71.8 186.2h1M84.2 177.5h1M51.8 179.3h1M95.6 182.5h1M69.0 161.6h1M63.4 184.8h1M61.4 172.3h1M61.1 179.2h1M85.3 175.0h1M42.8 179.3h1M80.3 184.0h1M58.3 172.2h1M97.7 180.2h1M50.1 176.1h1M64.4 176.7h1M72.2 172.6h1M87.7 168.0h1M57.6 165.1h1M48.6 185.2h1M79.6 178.3h1M82.9 185.5h1M61.2 179.7h1M63.3 183.3h1M53.8 177.7h1M40.5 179.6h1M105.5 182.2h1M71.4 182.4h1M72.2 168.4h1M59.4 178.5h1M72.6 172.4h1M68.4 173.6h1M49.9 174.3h1M57.7 187.4h1M90.4 185.2h1M66.8 175.2h1M46.1 175.4h1M73.4 177.9h1M70.1 183.8h1M69.9 183.8h1M58.3 180.5h1M68.7 175.6h1M70.3 181.1h1M66.5 183.8h1M61.2 165.2h1M80.6 179.8h1M95.4 183.5h1M59.5 184.9h1M53.3 179.3h1M45.5 185.9h1M78.6 171.1h1M82.3 174.2h1M59.5 170.2h1M50.3 182.8h1M74.2 177.2h1M72.5 179.8h1M54.7 170.9h1M79.6 171.5h1M78.9 185.6h1M64.2 165.9h1M57.4 169.0h1M86.6 181.3h1M65.8 184.0h1M63.9 173.5h1M73.3 172.6h1M43.0 175.4h1M94.6 182.3h1M63.4 184.2h1M55.6 186.5h1M63.2 182.3h1M57.0 178.9h1M84.9 178.2h1M59.8 182.6h1M83.4 178.5h1M52.2 166.5h1M68.7 184.3h1M86.3 182.6h1M77.3 175.7h1M45.5 185.6h1M68.5 185.1h1M53.8 178.9h1M100.6 172.8h1M66.5 181.2h1M37.6 186.9h1M68.6 176.9h1M76.6 178.0h1M84.9 181.1h1M82.3 187.3h1M78.8 180.5h1M71.1 183.7h1M78.6 183.2h1M61.6 179.5h1M77.0 171.6h1M69.9 186.7h1M72.6 177.6h1M69.7 175.9h1M84.9 176.9h1M44.7 169.7h1M74.6 181.9h1M62.8 168.8h1M67.7 172.9h1M60.0 180.1h1M58.4 182.8h1M58.8 176.1h1M58.8 180.2h1M83.9 187.1h1M45.3 179.7h1M58.8 186.6h1M79.7 175.5h1M102.5 177.7h1M107.1 178.7h1M62.0 176.1h1M92.4 179.8h1M77.3 169.3h1M75.4 186.2h1M62.4 176.1h1M46.2 183.3h1M84.0 186.2h1M56.0 168.9h1M79.7 181.6h1M85.0 177.8h1M56.6 184.0h1M61.6 166.1h1M60.8 172.6h1M53.1 175.4h1M96.2 176.6h1M87.3 179.5h1M76.1 174.3h1M68.9 165.8h1M97.2 173.6h1M78.9 175.1h1M74.1 170.1h1M79.0 163.5h1M82.9 168.9h1M74.3 184.6h1M60.3 177.4h1M66.3 183.6h1M66.0 186.7h1M68.1 180.9h1M56.1 183.5h1M100.7 181.4h1M69.7 180.2h1M80.8 178.4h1M69.9 182.0h1M54.0 174.7h1M70.3 187.4h1M84.7 178.4h1M102.3 178.8h1M94.2 181.9h1M78.7 167.1h1M43.0 174.9h1M45.9 173.1h1M55.5 171.2h1M95.0 172.2h1M57.4 176.7h1M83.4 176.2h1M81.2 184.9h1M60.3 159.9h1M56.1 169.5h1M94.8 174.0h1M53.8 183.4h1M70.8 172.1h1M74.2 173.7h1M56.7 162.6h1M75.8 183.5h1M56.0 180.4h1M119.8 170.5h1M44.1 185.4h1M63.5 175.9h1M79.4 179.0h1M85.1 184.5h1M87.6 181.2h1M73.8 168.3h1M54.5 180.5h1M58.8 171.5h1M80.4 179.9h1M68.8 181.2h1M74.4 181.7h1M57.0 157.8h1M80.7 169.8h1M67.8 179.3h1M61.0 184.7h1M65.9 177.7h1M55.5 177.7h1M54.2 180.5h1M76.5 168.4h1M101.4 160.8h1M70.3 177.2h1M86.6 170.8h1M85.1 163.0h1M60.6 185.2h1M71.5 167.6h1M88.0 174.9h1M87.1 174.0h1M73.8 179.9h1M51.0 182.8h1M64.1 156.6h1M57.4 172.8h1M57.3 171.7h1M59.5 159.1h1M83.6 180.7h1M73.9 177.8h1M71.0 177.8h1M53.4 167.0h1M49.2 177.8h1M95.8 175.6h1M81.1 178.0h1M54.8 179.1h1M75.5 159.2h1M82.2 180.8h1M33.7 180.9h1M54.4 186.8h1M75.1 178.6h1M65.7 184.6h1M78.8 185.7h1M63.8 168.7h1M61.4 179.8h1M82.3 164.9h1M74.1 174.0h1M101.2 180.1h1M73.2 176.4h1M72.8 164.6h1M50.4 167.3h1M83.8 179.2h1M87.6 162.5h1M57.9 164.0h1M58.6 177.1h1M78.9 175.7h1M62.5 167.3h1M71.4 172.3h1M80.3 184.2h1M72.4 170.0h1M73.6 175.1h1M81.3 185.2h1M76.7 176.3h1M93.2 186.7h1M89.3 187.3h1M80.1 183.4h1M53.7 164.3h1M55.7 185.3h1M83.9 181.6h1M63.9 164.6h1M46.4 177.2h1M80.7 186.4h1M66.6 187.1h1M69.3 173.8h1M64.2 186.5h1M84.5 170.3h1M55.0 181.1h1M102.3 169.9h1M50.9 183.6h1M77.7 174.7h1M69.6 184.2h1M43.5 179.8h1M87.7 179.4h1M81.7 174.5h1M67.9 159.6h1M62.9 173.5h1M57.3 179.3h1M53.6 183.4h1M98.7 169.7h1M85.8 175.4h1M78.3 178.9h1M89.5 173.9h1M81.1 173.3h1M73.5 179.9h1M86.5 166.4h1M54.4 181.8h1M69.2 176.1h1M80.9 179.1h1M58.6 186.6h1M41.1 171.3h1M90.7 175.7h1M65.1 183.2h1M87.0 184.6h1M55.4 175.1h1M85.9 179.0h1M53.7 173.9h1M59.5 183.1h1M60.3 177.6h1M78.6 181.8h1M78.7 175.8h1M73.2 170.5h1M69.6 159.6h1M80.5 161.5h1M72.7 154.4h1M66.5 168.7h1M80.5 157.2h1M86.1 163.6h1M75.2 158.1h1M85.8 162.6h1M89.2 162.7h1M74.0 158.1h1M73.2 162.2h1M79.7 163.9h1M81.1 156.0h1M76.6 156.5h1M81.3 154.7h1M74.0 156.9h1M73.8 159.8h1M88.3 159.8h1M68.2 159.6h1M83.1 163.7h1M79.6 170.6h1M85.6 161.4h1M86.3 154.6h1M76.8 156.8h1M79.2 168.8h1M74.6 168.6h1M71.0 167.8h1M66.5 156.9h1M84.8 160.6h1M79.0 160.9h1M79.2 160.1h1M71.3 159.6h1M78.8 156.7h1M81.2 169.5h1M66.8 158.4h1M76.1 161.1h1M78.7 157.5h1M77.8 161.0h1M77.4 168.4h1M78.9 153.9h1M67.3 163.8h1M75.7 158.0h1M68.8 159.5h1M77.4 157.7h1M75.6 165.3h1M83.3 163.6h1M76.8 154.5h1M83.3 168.2h1M86.7 166.6h1M79.9 162.8h1M77.9 167.0h1M76.2 171.3h1M83.3 159.5h1M78.0 153.3h1M73.0 159.6h1M94.7 157.1h1M84.2 161.4h1M76.0 164.0h1M64.5 165.5h1M91.2 162.4h1M77.6 161.8h1M82.5 158.7h1M78.8 163.4h1M75.6 162.9h1M80.3 164.4h1M71.3 158.4h1M75.1 166.7h1M79.7 153.1h1M69.3 170.3h1M80.3 154.8h1M71.8 161.7h1M87.7 168.8h1M75.5 159.6h1M91.0 156.3h1M88.6 162.6h1M78.6 167.2h1M81.3 157.0h1M67.6 161.1h1M81.5 167.6h1M60.2 167.4h1M82.2 168.3h1M83.4 162.0h1M80.9 162.9h1M73.7 160.5h1M78.9 158.8h1M68.0 154.1h1M81.4 163.5h1M78.7 155.4h1M83.8 159.1h1M63.9 168.5h1M67.9 171.8h1M81.6 158.9h1M62.0 157.6h1M88.1 167.5h1M79.8 152.8h1M75.4 159.6h1M81.1 160.4h1M80.3 153.2h1M73.6 167.9h1M68.1 165.4h1M93.7 164.1h1M68.6 167.0h1M65.4 162.6h1M75.2 167.0h1M86.0 161.9h1M90.2 165.7h1M74.8 156.3h1M94.7 159.1h1M80.8 160.4h1M74.8 153.3h1M77.0 160.4h1M84.7 158.5h1M67.4 155.8h1M77.7 162.2h1M82.9 159.2h1M81.7 161.7h1M89.5 160.7h1M79.0 163.7h1M86.3 156.6h1M74.8 159.7h1M63.5 167.3h1M85.3 161.1h1M100.9 167.1h1M91.8 168.6h1M84.2 154.2h1M88.4 163.0h1M69.9 161.3h1M83.1 165.7h1M79.2 158.5h1M83.2 157.3h1M77.5 164.7h1M68.2 162.8h1M64.7 156.5h1M69.6 160.6h1M82.9 160.8h1M84.2 161.5h1M76.6 163.4h1M76.4 161.7h1M85.1 158.3h1M85.8 155.7h1M76.5 152.6h1M74.4 168.7h1M80.4 167.1h1M68.0 156.1h1M81.2 165.0h1M83.7 152.9h1M81.5 160.7h1M78.8 163.3h1M76.1 152.8h1M70.7 154.0h1M69.0 160.4h1M86.9 157.6h1M72.8 155.5h1M66.2 161.3h1M74.7 159.8h1M71.5 163.3h1M69.8 163.6h1M73.5 164.8h1M72.0 163.1h1M81.0 160.6h1M89.1 161.8h1M72.0 164.3h1M72.4 158.4h1M78.1 161.9h1M89.6 152.6h1M76.2 166.5h1M76.9 162.6h1M88.4 155.1h1M78.3 164.8h1M74.0 152.5h1M71.2 161.9h1M79.3 169.9h1M87.0 153.5h1M85.1 165.4h1M89.0 160.3h1M74.2 161.7h1M88.5 164.0h1M89.6 164.8h1M74.0 156.1h1M90.6 153.7h1M75.6 159.5h1M71.8 158.2h1M77.6 158.5h1M78.8 165.5h1M72.4 159.0h1M66.1 164.4h1M82.6 168.3h1M69.8 171.5h1M84.0 159.7h1M75.3 159.5h1M69.7 164.7h1M73.9 157.5h1M81.5 161.5h1M74.0 159.9h1M74.6 167.5h1M84.8 157.5h1M77.7 167.6h1M76.0 169.6h1M81.0 164.2h1M63.8 165.1h1M80.3 163.8h1M81.3 163.6h1M74.5 165.4h1M78.4 155.9h1M71.1 161.8h1M80.3 150.3h1M63.9 166.1h1M67.5 159.8h1M73.9 163.7h1M87.6 168.8h1M71.1 167.0h1M69.7 162.5h1M79.2 164.0h1M72.5 167.5h1M77.5 160.9h1M76.2 155.8h1M82.9 162.6h1M81.1 170.0h1M72.1 159.6h1M78.1 165.1h1M76.8 165.5h1M81.1 152.5h1M73.3 151.2h1M76.0 159.0h1M82.0 161.8h1M77.6 167.1h1M82.1 155.0h1M73.3 162.6h1M89.6 160.0h1M76.8 162.3h1M83.3 160.6h1M80.0 159.0h1M74.2 157.1h1M82.5 158.3h1M81.8 163.0h1M84.7 148.0h1M71.4 155.1h1M76.9 164.9h1M95.3 168.5h1M87.3 162.9h1M75.4 163.6h1M63.1 165.5h1M78.1 164.0h1M71.0 155.7h1M73.6 160.8h1M80.4 159.3h1M80.4 164.3h1M70.1 160.5h1M67.4 158.3h1M84.2 157.5h1M90.7 163.5h1M84.1 161.5h1M83.9 166.3h1M78.7 158.4h1M74.2 170.4h1M76.7 158.8h1M73.2 152.8h1M74.6 162.6h1" stroke="#858585" stroke-width="1" fill="none" opacity="0.8"/>
<ellipse cx="77.7" cy="180" rx="8.3" ry="11.5" fill="#d6d6d6" opacity="0.9" filter="url(#bl3)"/>
</g>
<rect x="29.5" y="112.5" width="116" height="75.5" fill="none" stroke="#666" stroke-width="0.9" />
<line x1="69.5" y1="112.5" x2="69.5" y2="188" stroke="#444" stroke-width="0.85" />
<line x1="29.5" y1="159.5" x2="145.5" y2="159.5" stroke="#505050" stroke-width="0.85" />
<line x1="80.5" y1="166.5" x2="145.5" y2="166.5" stroke="#505050" stroke-width="0.85" />
<line x1="80.5" y1="166.5" x2="80.5" y2="188" stroke="#444" stroke-width="0.85" />
<text transform="translate(25.6,191.6) rotate(-90)" class="tk" font-size="4.6" fill="#444">10<tspan font-size="3.4" dy="-1.4">0</tspan></text>
<line x1="27.3" y1="188" x2="29.5" y2="188" stroke="#555" stroke-width="0.8" />
<text transform="translate(25.6,172.7) rotate(-90)" class="tk" font-size="4.6" fill="#444">10<tspan font-size="3.4" dy="-1.4">1</tspan></text>
<line x1="27.3" y1="169.1" x2="29.5" y2="169.1" stroke="#555" stroke-width="0.8" />
<text transform="translate(25.6,153.79999999999998) rotate(-90)" class="tk" font-size="4.6" fill="#444">10<tspan font-size="3.4" dy="-1.4">2</tspan></text>
<line x1="27.3" y1="150.2" x2="29.5" y2="150.2" stroke="#555" stroke-width="0.8" />
<text transform="translate(25.6,135.0) rotate(-90)" class="tk" font-size="4.6" fill="#444">10<tspan font-size="3.4" dy="-1.4">3</tspan></text>
<line x1="27.3" y1="131.4" x2="29.5" y2="131.4" stroke="#555" stroke-width="0.8" />
<text transform="translate(25.6,116.1) rotate(-90)" class="tk" font-size="4.6" fill="#444">10<tspan font-size="3.4" dy="-1.4">4</tspan></text>
<line x1="27.3" y1="112.5" x2="29.5" y2="112.5" stroke="#555" stroke-width="0.8" />
<text x="25.9" y="195.3" class="tk" font-size="4.6" fill="#444">10<tspan font-size="3.4" dy="-1.4">0</tspan></text>
<line x1="29.5" y1="188" x2="29.5" y2="190.3" stroke="#555" stroke-width="0.8" />
<text x="54.9" y="195.3" class="tk" font-size="4.6" fill="#444">10<tspan font-size="3.4" dy="-1.4">1</tspan></text>
<line x1="58.5" y1="188" x2="58.5" y2="190.3" stroke="#555" stroke-width="0.8" />
<text x="83.9" y="195.3" class="tk" font-size="4.6" fill="#444">10<tspan font-size="3.4" dy="-1.4">2</tspan></text>
<line x1="87.5" y1="188" x2="87.5" y2="190.3" stroke="#555" stroke-width="0.8" />
<text x="112.9" y="195.3" class="tk" font-size="4.6" fill="#444">10<tspan font-size="3.4" dy="-1.4">3</tspan></text>
<line x1="116.5" y1="188" x2="116.5" y2="190.3" stroke="#555" stroke-width="0.8" />
<text x="141.9" y="195.3" class="tk" font-size="4.6" fill="#444">10<tspan font-size="3.4" dy="-1.4">4</tspan></text>
<line x1="145.5" y1="188" x2="145.5" y2="190.3" stroke="#555" stroke-width="0.8" />
<line x1="38.229869874255456" y1="188" x2="38.229869874255456" y2="189.3" stroke="#777" stroke-width="0.5" />
<line x1="28.2" y1="182.31053308195075" x2="29.5" y2="182.31053308195075" stroke="#777" stroke-width="0.5" />
<line x1="43.33651638687021" y1="188" x2="43.33651638687021" y2="189.3" stroke="#777" stroke-width="0.5" />
<line x1="28.2" y1="178.98240828579839" x2="29.5" y2="178.98240828579839" stroke="#777" stroke-width="0.5" />
<line x1="46.95973974851091" y1="188" x2="46.95973974851091" y2="189.3" stroke="#777" stroke-width="0.5" />
<line x1="28.2" y1="176.6210661639015" x2="29.5" y2="176.6210661639015" stroke="#777" stroke-width="0.5" />
<line x1="49.770130125744544" y1="188" x2="49.770130125744544" y2="189.3" stroke="#777" stroke-width="0.5" />
<line x1="28.2" y1="174.78946691804924" x2="29.5" y2="174.78946691804924" stroke="#777" stroke-width="0.5" />
<line x1="52.066386261125665" y1="188" x2="52.066386261125665" y2="189.3" stroke="#777" stroke-width="0.5" />
<line x1="28.2" y1="173.29294136774914" x2="29.5" y2="173.29294136774914" stroke="#777" stroke-width="0.5" />
<line x1="54.007843160413444" y1="188" x2="54.007843160413444" y2="189.3" stroke="#777" stroke-width="0.5" />
<line x1="28.2" y1="172.02764704373055" x2="29.5" y2="172.02764704373055" stroke="#777" stroke-width="0.5" />
<line x1="55.68960962276636" y1="188" x2="55.68960962276636" y2="189.3" stroke="#777" stroke-width="0.5" />
<line x1="28.2" y1="170.93159924585228" x2="29.5" y2="170.93159924585228" stroke="#777" stroke-width="0.5" />
<line x1="57.17303277374042" y1="188" x2="57.17303277374042" y2="189.3" stroke="#777" stroke-width="0.5" />
<line x1="28.2" y1="169.96481657159677" x2="29.5" y2="169.96481657159677" stroke="#777" stroke-width="0.5" />
<line x1="67.22986987425546" y1="188" x2="67.22986987425546" y2="189.3" stroke="#777" stroke-width="0.5" />
<line x1="28.2" y1="163.41053308195075" x2="29.5" y2="163.41053308195075" stroke="#777" stroke-width="0.5" />
<line x1="72.33651638687022" y1="188" x2="72.33651638687022" y2="189.3" stroke="#777" stroke-width="0.5" />
<line x1="28.2" y1="160.08240828579838" x2="29.5" y2="160.08240828579838" stroke="#777" stroke-width="0.5" />
<line x1="75.95973974851091" y1="188" x2="75.95973974851091" y2="189.3" stroke="#777" stroke-width="0.5" />
<line x1="28.2" y1="157.72106616390153" x2="29.5" y2="157.72106616390153" stroke="#777" stroke-width="0.5" />
<line x1="78.77013012574454" y1="188" x2="78.77013012574454" y2="189.3" stroke="#777" stroke-width="0.5" />
<line x1="28.2" y1="155.88946691804927" x2="29.5" y2="155.88946691804927" stroke="#777" stroke-width="0.5" />
<line x1="81.06638626112567" y1="188" x2="81.06638626112567" y2="189.3" stroke="#777" stroke-width="0.5" />
<line x1="28.2" y1="154.39294136774913" x2="29.5" y2="154.39294136774913" stroke="#777" stroke-width="0.5" />
<line x1="83.00784316041344" y1="188" x2="83.00784316041344" y2="189.3" stroke="#777" stroke-width="0.5" />
<line x1="28.2" y1="153.12764704373055" x2="29.5" y2="153.12764704373055" stroke="#777" stroke-width="0.5" />
<line x1="84.68960962276637" y1="188" x2="84.68960962276637" y2="189.3" stroke="#777" stroke-width="0.5" />
<line x1="28.2" y1="152.03159924585228" x2="29.5" y2="152.03159924585228" stroke="#777" stroke-width="0.5" />
<line x1="86.17303277374042" y1="188" x2="86.17303277374042" y2="189.3" stroke="#777" stroke-width="0.5" />
<line x1="28.2" y1="151.06481657159677" x2="29.5" y2="151.06481657159677" stroke="#777" stroke-width="0.5" />
<line x1="96.22986987425546" y1="188" x2="96.22986987425546" y2="189.3" stroke="#777" stroke-width="0.5" />
<line x1="28.2" y1="144.51053308195077" x2="29.5" y2="144.51053308195077" stroke="#777" stroke-width="0.5" />
<line x1="101.33651638687022" y1="188" x2="101.33651638687022" y2="189.3" stroke="#777" stroke-width="0.5" />
<line x1="28.2" y1="141.18240828579837" x2="29.5" y2="141.18240828579837" stroke="#777" stroke-width="0.5" />
<line x1="104.95973974851091" y1="188" x2="104.95973974851091" y2="189.3" stroke="#777" stroke-width="0.5" />
<line x1="28.2" y1="138.82106616390152" x2="29.5" y2="138.82106616390152" stroke="#777" stroke-width="0.5" />
<line x1="107.77013012574454" y1="188" x2="107.77013012574454" y2="189.3" stroke="#777" stroke-width="0.5" />
<line x1="28.2" y1="136.98946691804926" x2="29.5" y2="136.98946691804926" stroke="#777" stroke-width="0.5" />
<line x1="110.06638626112567" y1="188" x2="110.06638626112567" y2="189.3" stroke="#777" stroke-width="0.5" />
<line x1="28.2" y1="135.49294136774913" x2="29.5" y2="135.49294136774913" stroke="#777" stroke-width="0.5" />
<line x1="112.00784316041344" y1="188" x2="112.00784316041344" y2="189.3" stroke="#777" stroke-width="0.5" />
<line x1="28.2" y1="134.22764704373054" x2="29.5" y2="134.22764704373054" stroke="#777" stroke-width="0.5" />
<line x1="113.68960962276637" y1="188" x2="113.68960962276637" y2="189.3" stroke="#777" stroke-width="0.5" />
<line x1="28.2" y1="133.13159924585227" x2="29.5" y2="133.13159924585227" stroke="#777" stroke-width="0.5" />
<line x1="115.17303277374042" y1="188" x2="115.17303277374042" y2="189.3" stroke="#777" stroke-width="0.5" />
<line x1="28.2" y1="132.16481657159676" x2="29.5" y2="132.16481657159676" stroke="#777" stroke-width="0.5" />
<line x1="125.22986987425546" y1="188" x2="125.22986987425546" y2="189.3" stroke="#777" stroke-width="0.5" />
<line x1="28.2" y1="125.61053308195076" x2="29.5" y2="125.61053308195076" stroke="#777" stroke-width="0.5" />
<line x1="130.33651638687022" y1="188" x2="130.33651638687022" y2="189.3" stroke="#777" stroke-width="0.5" />
<line x1="28.2" y1="122.28240828579838" x2="29.5" y2="122.28240828579838" stroke="#777" stroke-width="0.5" />
<line x1="133.9597397485109" y1="188" x2="133.9597397485109" y2="189.3" stroke="#777" stroke-width="0.5" />
<line x1="28.2" y1="119.92106616390151" x2="29.5" y2="119.92106616390151" stroke="#777" stroke-width="0.5" />
<line x1="136.77013012574454" y1="188" x2="136.77013012574454" y2="189.3" stroke="#777" stroke-width="0.5" />
<line x1="28.2" y1="118.08946691804925" x2="29.5" y2="118.08946691804925" stroke="#777" stroke-width="0.5" />
<line x1="139.06638626112567" y1="188" x2="139.06638626112567" y2="189.3" stroke="#777" stroke-width="0.5" />
<line x1="28.2" y1="116.59294136774913" x2="29.5" y2="116.59294136774913" stroke="#777" stroke-width="0.5" />
<line x1="141.00784316041344" y1="188" x2="141.00784316041344" y2="189.3" stroke="#777" stroke-width="0.5" />
<line x1="28.2" y1="115.32764704373055" x2="29.5" y2="115.32764704373055" stroke="#777" stroke-width="0.5" />
<line x1="142.68960962276637" y1="188" x2="142.68960962276637" y2="189.3" stroke="#777" stroke-width="0.5" />
<line x1="28.2" y1="114.23159924585227" x2="29.5" y2="114.23159924585227" stroke="#777" stroke-width="0.5" />
<line x1="144.17303277374043" y1="188" x2="144.17303277374043" y2="189.3" stroke="#777" stroke-width="0.5" />
<line x1="28.2" y1="113.26481657159677" x2="29.5" y2="113.26481657159677" stroke="#777" stroke-width="0.5" />
<text x="50" y="205.5" font-size="7.5" font-weight="bold" text-anchor="start" fill="#111" >FL1-H- Venus</text>
<text x="12.3" y="161" font-size="7.5" font-weight="bold" fill="#111" text-anchor="middle" transform="rotate(-90 12.3 161)">FL2-H</text>
<line x1="102.5" y1="180" x2="154" y2="164.2" stroke="#222" stroke-width="0.9" />
<path d="M156.5 163.4 L151.5 163 L152.8 166.6 Z" fill="#111"/>
<path d="M165 145.5 Q161 146 161 150 L161 173.5 Q161 177.5 165 178" fill="none" stroke="#444" stroke-width="0.9"/>
<defs>
<linearGradient id="g1" x1="0" x2="1" y1="0" y2="0"><stop offset="0" stop-color="#6a6a6a"/><stop offset="0.2" stop-color="#8a8a8a"/><stop offset="0.5" stop-color="#7a7a7a"/><stop offset="0.62" stop-color="#2a2a2a"/><stop offset="1" stop-color="#1c1c1c"/></linearGradient>
<linearGradient id="g2" x1="0" x2="1" y1="0" y2="0"><stop offset="0" stop-color="#777"/><stop offset="0.15" stop-color="#a0a0a0"/><stop offset="0.45" stop-color="#8a8a8a"/><stop offset="0.6" stop-color="#333"/><stop offset="1" stop-color="#222"/></linearGradient>
<linearGradient id="g3" x1="0" x2="0" y1="0" y2="1"><stop offset="0" stop-color="#a8a8a8"/><stop offset="0.3" stop-color="#2a2a2a"/><stop offset="0.55" stop-color="#050505"/><stop offset="0.8" stop-color="#3a3a3a"/><stop offset="1" stop-color="#b5b5b5"/></linearGradient>
<filter id="bl"><feGaussianBlur stdDeviation="1.5"/></filter>
</defs>
<rect x="170" y="143" width="64.5" height="10.8" fill="url(#g1)" stroke="none" stroke-width="1" />
<rect x="170" y="159.5" width="64.5" height="10" fill="url(#g2)" stroke="none" stroke-width="1" />
<ellipse cx="219" cy="164.7" rx="15" ry="2.8" fill="#000" filter="url(#bl)"/>
<rect x="170" y="174.5" width="64.5" height="10" fill="url(#g3)" stroke="none" stroke-width="1" />
<text x="169.2" y="139" font-size="7.5" font-weight="bold" text-anchor="start" fill="#111" >SIRT1<tspan font-size="4.5" dy="-1.8" style="stroke-width:0.1px">-/-</tspan></text>
<text x="207" y="139" font-size="7.5" font-weight="bold" text-anchor="start" fill="#111" >SIRTT1 <tspan font-size="4.5" dy="-1.8" style="stroke-width:0.1px">-/-</tspan><tspan dy="1.8"> +SIRT1 venus</tspan></text>
<text x="237" y="150" font-size="7.5" font-weight="bold" text-anchor="start" fill="#111" >SIRT1</text>
<text x="237.5" y="165.5" font-size="7.5" font-weight="bold" text-anchor="start" fill="#111" >Venus</text>
<text x="238.2" y="181.7" font-size="7.5" font-weight="bold" text-anchor="start" fill="#111" >Actin</text>
<text x="1.5" y="233.2" font-size="13" font-weight="bold" text-anchor="start" fill="#000" >C</text>
<text x="65.3" y="232.3" font-size="9.6" font-weight="bold" text-anchor="start" fill="#111" >Normoxia (20% O<tspan font-size="6.3" dy="2">2</tspan><tspan dy="-2">)</tspan></text>
<line x1="43" y1="232.5" x2="43" y2="358" stroke="#888" stroke-width="0.9" />
<line x1="43" y1="358" x2="172" y2="358" stroke="#888" stroke-width="0.9" />
<line x1="40" y1="358.0" x2="43" y2="358.0" stroke="#888" stroke-width="0.8" />
<text x="33.5" y="360.5" font-size="7"  text-anchor="end" fill="#222" >0</text>
<line x1="40" y1="337.1" x2="43" y2="337.1" stroke="#888" stroke-width="0.8" />
<text x="33.5" y="339.6" font-size="7"  text-anchor="end" fill="#222" >100</text>
<line x1="40" y1="316.2" x2="43" y2="316.2" stroke="#888" stroke-width="0.8" />
<text x="33.5" y="318.7" font-size="7"  text-anchor="end" fill="#222" >200</text>
<line x1="40" y1="295.3" x2="43" y2="295.3" stroke="#888" stroke-width="0.8" />
<text x="33.5" y="297.8" font-size="7"  text-anchor="end" fill="#222" >300</text>
<line x1="40" y1="274.4" x2="43" y2="274.4" stroke="#888" stroke-width="0.8" />
<text x="33.5" y="276.9" font-size="7"  text-anchor="end" fill="#222" >400</text>
<line x1="40" y1="253.5" x2="43" y2="253.5" stroke="#888" stroke-width="0.8" />
<text x="33.5" y="256.0" font-size="7"  text-anchor="end" fill="#222" >500</text>
<line x1="40" y1="232.60000000000002" x2="43" y2="232.60000000000002" stroke="#888" stroke-width="0.8" />
<text x="33.5" y="235.10000000000002" font-size="7"  text-anchor="end" fill="#222" >600</text>
<line x1="86.2" y1="358" x2="86.2" y2="360.5" stroke="#888" stroke-width="0.8" />
<line x1="129.5" y1="358" x2="129.5" y2="360.5" stroke="#888" stroke-width="0.8" />
<line x1="172" y1="358" x2="172" y2="360.5" stroke="#888" stroke-width="0.8" />
<line x1="54.6" y1="315" x2="54.6" y2="308" stroke="#444" stroke-width="0.9" />
<line x1="52.6" y1="308" x2="56.6" y2="308" stroke="#444" stroke-width="0.9" />
<line x1="73.2" y1="333.2" x2="73.2" y2="323" stroke="#444" stroke-width="0.9" />
<line x1="71.2" y1="323" x2="75.2" y2="323" stroke="#444" stroke-width="0.9" />
<line x1="139" y1="266.2" x2="139" y2="243.8" stroke="#444" stroke-width="0.9" />
<line x1="137" y1="243.8" x2="141" y2="243.8" stroke="#444" stroke-width="0.9" />
<line x1="157.5" y1="293" x2="157.5" y2="277.5" stroke="#444" stroke-width="0.9" />
<line x1="155.5" y1="277.5" x2="159.5" y2="277.5" stroke="#444" stroke-width="0.9" />
<rect x="50" y="315" width="9.3" height="43" fill="#000" stroke="#000" stroke-width="0.5" />
<rect x="68.3" y="333.5" width="9.7" height="24.5" fill="#fff" stroke="#222" stroke-width="0.9" />
<rect x="134.3" y="266.3" width="9.4" height="91.7" fill="#000" stroke="#000" stroke-width="0.5" />
<rect x="152.8" y="293.3" width="9.5" height="64.7" fill="#fff" stroke="#222" stroke-width="0.9" />
<text x="64" y="372.6" font-size="7.5"  text-anchor="middle" fill="#222" >D4.5</text>
<text x="148" y="372.6" font-size="7.5"  text-anchor="middle" fill="#222" >D5</text>
<text x="10.2" y="295.6" font-size="9.7" font-weight="bold" fill="#111" text-anchor="middle" transform="rotate(-90 10.2 295.6)">#EryP/5^*10<tspan font-size="5.5" dy="-3">4</tspan><tspan dy="3"> cells</tspan></text>
<rect x="178.3" y="292" width="4.2" height="4.2" fill="#000" stroke="none" stroke-width="1" />
<rect x="179.2" y="304.6" width="3" height="3.2" fill="#b5b5b5" stroke="none" stroke-width="1" />
<rect x="178.6" y="315.8" width="3.8" height="4" fill="#fff" stroke="#222" stroke-width="0.8" />
<text x="184.5" y="297" font-size="7.6"  text-anchor="start" fill="#222" >SIRT1 +/+</text>
<text x="184.5" y="309" font-size="7.65"  text-anchor="start" fill="#222" >SIRT1-/- +NULL</text>
<text x="184.5" y="320.3" font-size="7.55"  text-anchor="start" fill="#222" >SIRT1-/-+SIRT1</text>
<text x="255" y="233.2" font-size="13" font-weight="bold" text-anchor="start" fill="#000" >D</text>
<rect x="297.5" y="235" width="137.0" height="126.30000000000001" fill="none" stroke="#777" stroke-width="0.9" />
<line x1="297.5" y1="325.4" x2="434.5" y2="325.4" stroke="#888" stroke-width="0.8" />
<line x1="324.9" y1="325.4" x2="324.9" y2="327.59999999999997" stroke="#888" stroke-width="0.7" />
<line x1="352.3" y1="325.4" x2="352.3" y2="327.59999999999997" stroke="#888" stroke-width="0.7" />
<line x1="379.7" y1="325.4" x2="379.7" y2="327.59999999999997" stroke="#888" stroke-width="0.7" />
<line x1="407.1" y1="325.4" x2="407.1" y2="327.59999999999997" stroke="#888" stroke-width="0.7" />
<line x1="295" y1="361.5" x2="297.5" y2="361.5" stroke="#777" stroke-width="0.8" />
<text x="290.5" y="363.8" font-size="7.5"  text-anchor="end" fill="#222" >-2</text>
<line x1="295" y1="343.45" x2="297.5" y2="343.45" stroke="#777" stroke-width="0.8" />
<text x="290.5" y="345.75" font-size="7.5"  text-anchor="end" fill="#222" >-1</text>
<line x1="295" y1="325.4" x2="297.5" y2="325.4" stroke="#777" stroke-width="0.8" />
<text x="290.5" y="327.7" font-size="7.5"  text-anchor="end" fill="#222" >0</text>
<line x1="295" y1="307.34999999999997" x2="297.5" y2="307.34999999999997" stroke="#777" stroke-width="0.8" />
<text x="290.5" y="309.65" font-size="7.5"  text-anchor="end" fill="#222" >1</text>
<line x1="295" y1="289.29999999999995" x2="297.5" y2="289.29999999999995" stroke="#777" stroke-width="0.8" />
<text x="290.5" y="291.59999999999997" font-size="7.5"  text-anchor="end" fill="#222" >2</text>
<line x1="295" y1="271.25" x2="297.5" y2="271.25" stroke="#777" stroke-width="0.8" />
<text x="290.5" y="273.55" font-size="7.5"  text-anchor="end" fill="#222" >3</text>
<line x1="295" y1="253.2" x2="297.5" y2="253.2" stroke="#777" stroke-width="0.8" />
<text x="290.5" y="255.5" font-size="7.5"  text-anchor="end" fill="#222" >4</text>
<line x1="295" y1="235.14999999999998" x2="297.5" y2="235.14999999999998" stroke="#777" stroke-width="0.8" />
<text x="290.5" y="237.45" font-size="7.5"  text-anchor="end" fill="#222" >5</text>
<text x="311.25" y="376.6" font-size="7.5"  text-anchor="middle" fill="#222" >D0</text>
<text x="338.75" y="376.6" font-size="7.5"  text-anchor="middle" fill="#222" >D2</text>
<text x="366.25" y="376.6" font-size="7.5"  text-anchor="middle" fill="#222" >D4</text>
<text x="393.75" y="376.6" font-size="7.5"  text-anchor="middle" fill="#222" >D6</text>
<text x="421.0" y="376.6" font-size="7.5"  text-anchor="middle" fill="#222" >D8</text>
<text x="315.7" y="248" font-size="9.5"  text-anchor="start" fill="#222" >Hbb-bh1</text>
<line x1="311.25" y1="321.78999999999996" x2="311.25" y2="305.8" stroke="#555" stroke-width="0.9" />
<line x1="308.75" y1="305.8" x2="313.75" y2="305.8" stroke="#555" stroke-width="0.9" />
<line x1="366.25" y1="291.10499999999996" x2="366.25" y2="281.8" stroke="#333" stroke-width="0.9" />
<line x1="363.75" y1="281.8" x2="368.75" y2="281.8" stroke="#333" stroke-width="0.9" />
<line x1="366.25" y1="309.155" x2="366.25" y2="298.8" stroke="#555" stroke-width="0.9" />
<line x1="363.75" y1="298.8" x2="368.75" y2="298.8" stroke="#555" stroke-width="0.9" />
<line x1="393.75" y1="266.37649999999996" x2="393.75" y2="257.5" stroke="#333" stroke-width="0.9" />
<line x1="391.25" y1="257.5" x2="396.25" y2="257.5" stroke="#333" stroke-width="0.9" />
<line x1="421.0" y1="269.445" x2="421.0" y2="261.3" stroke="#333" stroke-width="0.9" />
<line x1="418.5" y1="261.3" x2="423.5" y2="261.3" stroke="#333" stroke-width="0.9" />
<line x1="311.25" y1="343.45" x2="311.25" y2="331.3" stroke="#555" stroke-width="0.9" />
<line x1="308.75" y1="331.3" x2="313.75" y2="331.3" stroke="#555" stroke-width="0.9" />
<line x1="366.25" y1="340.74249999999995" x2="366.25" y2="331.3" stroke="#555" stroke-width="0.9" />
<line x1="363.75" y1="331.3" x2="368.75" y2="331.3" stroke="#555" stroke-width="0.9" />
<line x1="338.75" y1="321.78999999999996" x2="338.75" y2="317.2775" stroke="#555" stroke-width="0.9" />
<line x1="336.25" y1="317.2775" x2="341.25" y2="317.2775" stroke="#555" stroke-width="0.9" />
<polyline points="311.25,343.45 338.75,344.35249999999996 366.25,340.74249999999995 393.75,288.75849999999997 421.0,276.304" fill="none" stroke="#a0a0a0" stroke-width="2.4" stroke-linejoin="round"/>
<polyline points="311.25,321.78999999999996 338.75,321.78999999999996 366.25,309.155 393.75,274.85999999999996 421.0,269.445" fill="none" stroke="#d6d6d6" stroke-width="2.1" stroke-linejoin="round"/>
<polyline points="311.25,325.4 338.75,321.78999999999996 366.25,291.10499999999996 393.75,266.37649999999996 421.0,272.1525" fill="none" stroke="#000" stroke-width="2.4" stroke-linejoin="round"/>
<rect x="308.65" y="340.84999999999997" width="5.2" height="5.2" fill="#a0a0a0"/>
<rect x="336.15" y="341.75249999999994" width="5.2" height="5.2" fill="#a0a0a0"/>
<rect x="363.65" y="338.1424999999999" width="5.2" height="5.2" fill="#a0a0a0"/>
<rect x="391.15" y="286.15849999999995" width="5.2" height="5.2" fill="#a0a0a0"/>
<rect x="418.4" y="273.70399999999995" width="5.2" height="5.2" fill="#a0a0a0"/>
<path d="M311.25 322.4 L314.25 325.4 L311.25 328.4 L308.25 325.4 Z" fill="#000"/>
<path d="M338.75 318.78999999999996 L341.75 321.78999999999996 L338.75 324.78999999999996 L335.75 321.78999999999996 Z" fill="#000"/>
<path d="M366.25 288.10499999999996 L369.25 291.10499999999996 L366.25 294.10499999999996 L363.25 291.10499999999996 Z" fill="#000"/>
<path d="M393.75 263.37649999999996 L396.75 266.37649999999996 L393.75 269.37649999999996 L390.75 266.37649999999996 Z" fill="#000"/>
<path d="M421.0 269.1525 L424.0 272.1525 L421.0 275.1525 L418.0 272.1525 Z" fill="#000"/>
<path d="M311.25 317.98999999999995 L314.85 324.78999999999996 L307.65 324.78999999999996 Z" fill="#fff" stroke="#777" stroke-width="0.8"/>
<path d="M338.75 317.98999999999995 L342.35 324.78999999999996 L335.15 324.78999999999996 Z" fill="#fff" stroke="#777" stroke-width="0.8"/>
<path d="M366.25 305.35499999999996 L369.85 312.155 L362.65 312.155 Z" fill="#fff" stroke="#777" stroke-width="0.8"/>
<path d="M393.75 271.05999999999995 L397.35 277.85999999999996 L390.15 277.85999999999996 Z" fill="#fff" stroke="#777" stroke-width="0.8"/>
<path d="M421.0 265.645 L424.6 272.445 L417.4 272.445 Z" fill="#fff" stroke="#777" stroke-width="0.8"/>
<text x="364.4" y="280.5" font-size="15"  text-anchor="middle" fill="#111" stroke="#111" stroke-width="0.35">**</text>
<text x="391.8" y="260" font-size="15"  text-anchor="middle" fill="#111" stroke="#111" stroke-width="0.35">**</text>
<text x="363" y="311" font-size="13"  text-anchor="middle" fill="#111" stroke="#111" stroke-width="0.35">*</text>
<text x="399.6" y="284" font-size="13"  text-anchor="middle" fill="#111" stroke="#111" stroke-width="0.35">*</text>
<text x="271" y="298.4" font-size="9.5" font-weight="bold" fill="#111" text-anchor="middle" transform="rotate(-90 271 298.4)">Relative Expression</text>
<text x="279.3" y="297" font-size="8" font-weight="bold" fill="#111" text-anchor="middle" transform="rotate(-90 279.3 297)">(log10)</text>
<line x1="438.7" y1="281.3" x2="458" y2="281.3" stroke="#000" stroke-width="2.6" />
<path d="M448.7 279.1 L450.9 281.3 L448.7 283.5 L446.5 281.3 Z" fill="#000"/>
<line x1="438.7" y1="297.5" x2="458" y2="297.5" stroke="#a0a0a0" stroke-width="2.4" />
<rect x="446.3" y="295.1" width="4.8" height="4.8" fill="#a0a0a0"/>
<line x1="438.7" y1="314.3" x2="458" y2="314.3" stroke="#d4d4d4" stroke-width="1.5" />
<path d="M448.7 312.4 L450.695 316.18 L446.705 316.18 Z" fill="#fff" stroke="#777" stroke-width="0.8"/>
<text x="460.5" y="284" font-size="7.5"  text-anchor="start" fill="#222" >SIRT1+/+</text>
<text x="460.5" y="300.2" font-size="7.5"  text-anchor="start" fill="#222" >SIRT1-/-+NULL</text>
<text x="460.5" y="317" font-size="7.5"  text-anchor="start" fill="#222" >SIRT1-/-+SIRT1</text>
<text x="1.2" y="399" font-size="13" font-weight="bold" text-anchor="start" fill="#000" >E</text>
<rect x="46.2" y="395.2" width="130.0" height="111.19999999999999" fill="none" stroke="#777" stroke-width="0.9" />
<line x1="46.2" y1="488.2" x2="176.2" y2="488.2" stroke="#999" stroke-width="0.8" />
<line x1="72.2" y1="488.2" x2="72.2" y2="490.4" stroke="#999" stroke-width="0.7" />
<line x1="98.2" y1="488.2" x2="98.2" y2="490.4" stroke="#999" stroke-width="0.7" />
<line x1="124.2" y1="488.2" x2="124.2" y2="490.4" stroke="#999" stroke-width="0.7" />
<line x1="150.2" y1="488.2" x2="150.2" y2="490.4" stroke="#999" stroke-width="0.7" />
<line x1="43.7" y1="506.8" x2="46.2" y2="506.8" stroke="#777" stroke-width="0.8" />
<text x="40" y="509.40000000000003" font-size="7.5"  text-anchor="end" fill="#222" >-1</text>
<line x1="43.7" y1="488.2" x2="46.2" y2="488.2" stroke="#777" stroke-width="0.8" />
<text x="40" y="490.8" font-size="7.5"  text-anchor="end" fill="#222" >0</text>
<line x1="43.7" y1="469.59999999999997" x2="46.2" y2="469.59999999999997" stroke="#777" stroke-width="0.8" />
<text x="40" y="472.2" font-size="7.5"  text-anchor="end" fill="#222" >1</text>
<line x1="43.7" y1="451.0" x2="46.2" y2="451.0" stroke="#777" stroke-width="0.8" />
<text x="40" y="453.6" font-size="7.5"  text-anchor="end" fill="#222" >2</text>
<line x1="43.7" y1="432.4" x2="46.2" y2="432.4" stroke="#777" stroke-width="0.8" />
<text x="40" y="435.0" font-size="7.5"  text-anchor="end" fill="#222" >3</text>
<line x1="43.7" y1="413.79999999999995" x2="46.2" y2="413.79999999999995" stroke="#777" stroke-width="0.8" />
<text x="40" y="416.4" font-size="7.5"  text-anchor="end" fill="#222" >4</text>
<line x1="43.7" y1="395.2" x2="46.2" y2="395.2" stroke="#777" stroke-width="0.8" />
<text x="40" y="397.8" font-size="7.5"  text-anchor="end" fill="#222" >5</text>
<text x="59.3" y="522.2" font-size="7.5"  text-anchor="middle" fill="#222" >D0</text>
<text x="85.3" y="522.2" font-size="7.5"  text-anchor="middle" fill="#222" >D2</text>
<text x="111.3" y="522.2" font-size="7.5"  text-anchor="middle" fill="#222" >D4</text>
<text x="137.4" y="522.2" font-size="7.5"  text-anchor="middle" fill="#222" >D6</text>
<text x="163.3" y="522.2" font-size="7.5"  text-anchor="middle" fill="#222" >D8</text>
<text x="50.7" y="408.2" font-size="9.2"  text-anchor="start" fill="#222" >Hbb-b1</text>
<line x1="59.3" y1="488.2" x2="59.3" y2="482.62" stroke="#333" stroke-width="0.9" />
<line x1="57.0" y1="482.62" x2="61.599999999999994" y2="482.62" stroke="#333" stroke-width="0.9" />
<line x1="85.3" y1="494.33799999999997" x2="85.3" y2="488.2" stroke="#333" stroke-width="0.9" />
<line x1="83.0" y1="488.2" x2="87.6" y2="488.2" stroke="#333" stroke-width="0.9" />
<line x1="111.3" y1="483.178" x2="111.3" y2="477.03999999999996" stroke="#333" stroke-width="0.9" />
<line x1="109.0" y1="477.03999999999996" x2="113.6" y2="477.03999999999996" stroke="#333" stroke-width="0.9" />
<line x1="137.4" y1="449.698" x2="137.4" y2="445.8" stroke="#333" stroke-width="0.9" />
<line x1="135.1" y1="445.8" x2="139.70000000000002" y2="445.8" stroke="#333" stroke-width="0.9" />
<line x1="163.3" y1="421.24" x2="163.3" y2="415" stroke="#333" stroke-width="0.9" />
<line x1="160.8" y1="415" x2="165.8" y2="415" stroke="#333" stroke-width="0.9" />
<line x1="59.3" y1="501.21999999999997" x2="59.3" y2="497.5" stroke="#666" stroke-width="0.9" />
<line x1="57.3" y1="497.5" x2="61.3" y2="497.5" stroke="#666" stroke-width="0.9" />
<line x1="111.3" y1="482.62" x2="111.3" y2="497.5" stroke="#555" stroke-width="0.9" />
<line x1="137.4" y1="459.928" x2="137.4" y2="451.0" stroke="#666" stroke-width="0.9" />
<line x1="135.4" y1="451.0" x2="139.4" y2="451.0" stroke="#666" stroke-width="0.9" />
<line x1="163.3" y1="443.00199999999995" x2="163.3" y2="440.77" stroke="#888" stroke-width="0.9" />
<line x1="161.3" y1="440.77" x2="165.3" y2="440.77" stroke="#888" stroke-width="0.9" />
<polyline points="59.3,493.408 85.3,500.28999999999996 111.3,498.988 137.4,476.11 163.3,443.00199999999995" fill="none" stroke="#808080" stroke-width="2.7" stroke-linejoin="round"/>
<polyline points="59.3,501.21999999999997 85.3,497.5 111.3,487.27 137.4,459.928 163.3,428.67999999999995" fill="none" stroke="#d6d6d6" stroke-width="2.2" stroke-linejoin="round"/>
<polyline points="59.3,488.2 85.3,494.33799999999997 111.3,483.178 137.4,449.698 163.3,421.24" fill="none" stroke="#000" stroke-width="2.6" stroke-linejoin="round"/>
<circle cx="59.3" cy="493.408" r="2.6" fill="#dcdcdc" stroke="#c0c0c0" stroke-width="0.6"/>
<circle cx="85.3" cy="500.28999999999996" r="2.6" fill="#dcdcdc" stroke="#c0c0c0" stroke-width="0.6"/>
<circle cx="111.3" cy="498.988" r="2.6" fill="#dcdcdc" stroke="#c0c0c0" stroke-width="0.6"/>
<circle cx="137.4" cy="476.11" r="2.6" fill="#dcdcdc" stroke="#c0c0c0" stroke-width="0.6"/>
<circle cx="163.3" cy="443.00199999999995" r="2.6" fill="#dcdcdc" stroke="#c0c0c0" stroke-width="0.6"/>
<path d="M59.3 485.3 L62.199999999999996 488.2 L59.3 491.09999999999997 L56.4 488.2 Z" fill="#000"/>
<path d="M85.3 491.438 L88.2 494.33799999999997 L85.3 497.23799999999994 L82.39999999999999 494.33799999999997 Z" fill="#000"/>
<path d="M111.3 480.278 L114.2 483.178 L111.3 486.078 L108.39999999999999 483.178 Z" fill="#000"/>
<path d="M137.4 446.798 L140.3 449.698 L137.4 452.59799999999996 L134.5 449.698 Z" fill="#000"/>
<path d="M163.3 418.34000000000003 L166.20000000000002 421.24 L163.3 424.14 L160.4 421.24 Z" fill="#000"/>
<path d="M59.3 497.61999999999995 L62.099999999999994 504.11999999999995 L56.5 504.11999999999995 Z" fill="#fff" stroke="#777" stroke-width="0.8"/>
<path d="M85.3 493.9 L88.1 500.4 L82.5 500.4 Z" fill="#fff" stroke="#777" stroke-width="0.8"/>
<path d="M111.3 483.66999999999996 L114.1 490.16999999999996 L108.5 490.16999999999996 Z" fill="#fff" stroke="#777" stroke-width="0.8"/>
<path d="M137.4 456.328 L140.20000000000002 462.828 L134.6 462.828 Z" fill="#fff" stroke="#777" stroke-width="0.8"/>
<path d="M163.3 425.0799999999999 L166.10000000000002 431.5799999999999 L160.5 431.5799999999999 Z" fill="#fff" stroke="#777" stroke-width="0.8"/>
<text x="125" y="451.5" font-size="14"  text-anchor="middle" fill="#111" stroke="#111" stroke-width="0.35">***</text>
<text x="155.2" y="421" font-size="14"  text-anchor="middle" fill="#111" stroke="#111" stroke-width="0.35">**</text>
<text x="169.5" y="435.3" font-size="14"  text-anchor="middle" fill="#111" stroke="#111" stroke-width="0.35">**</text>
<text x="142" y="467.5" font-size="13"  text-anchor="middle" fill="#111" stroke="#111" stroke-width="0.35">*</text>
<text x="10.8" y="450" font-size="9.75" font-weight="bold" fill="#111" text-anchor="middle" transform="rotate(-90 10.8 450)">Relative Expression</text>
<text x="22.3" y="449.7" font-size="9.5" font-weight="bold" fill="#111" text-anchor="middle" transform="rotate(-90 22.3 449.7)">(log10)</text>
<line x1="176.3" y1="438.8" x2="196.3" y2="438.8" stroke="#000" stroke-width="2.6" />
<path d="M186.3 436.6 L188.5 438.8 L186.3 441.0 L184.10000000000002 438.8 Z" fill="#000"/>
<line x1="176.3" y1="453.9" x2="196.3" y2="453.9" stroke="#808080" stroke-width="2.4" />
<circle cx="186.3" cy="453.9" r="2.2" fill="#dcdcdc" stroke="#c0c0c0" stroke-width="0.6"/>
<line x1="176.3" y1="468.8" x2="196.3" y2="468.8" stroke="#d8d8d8" stroke-width="1.5" />
<path d="M186.3 466.9 L188.29500000000002 470.68 L184.305 470.68 Z" fill="#fff" stroke="#777" stroke-width="0.8"/>
<text x="198" y="441.6" font-size="7.7"  text-anchor="start" fill="#222" >SIRT1+/+</text>
<text x="198" y="456.6" font-size="7.7"  text-anchor="start" fill="#222" >SIRT-/-+NULL</text>
<text x="198" y="471.6" font-size="7.7"  text-anchor="start" fill="#222" >SIRT1-/-+SIRT1</text>
</svg>
</body></html>
